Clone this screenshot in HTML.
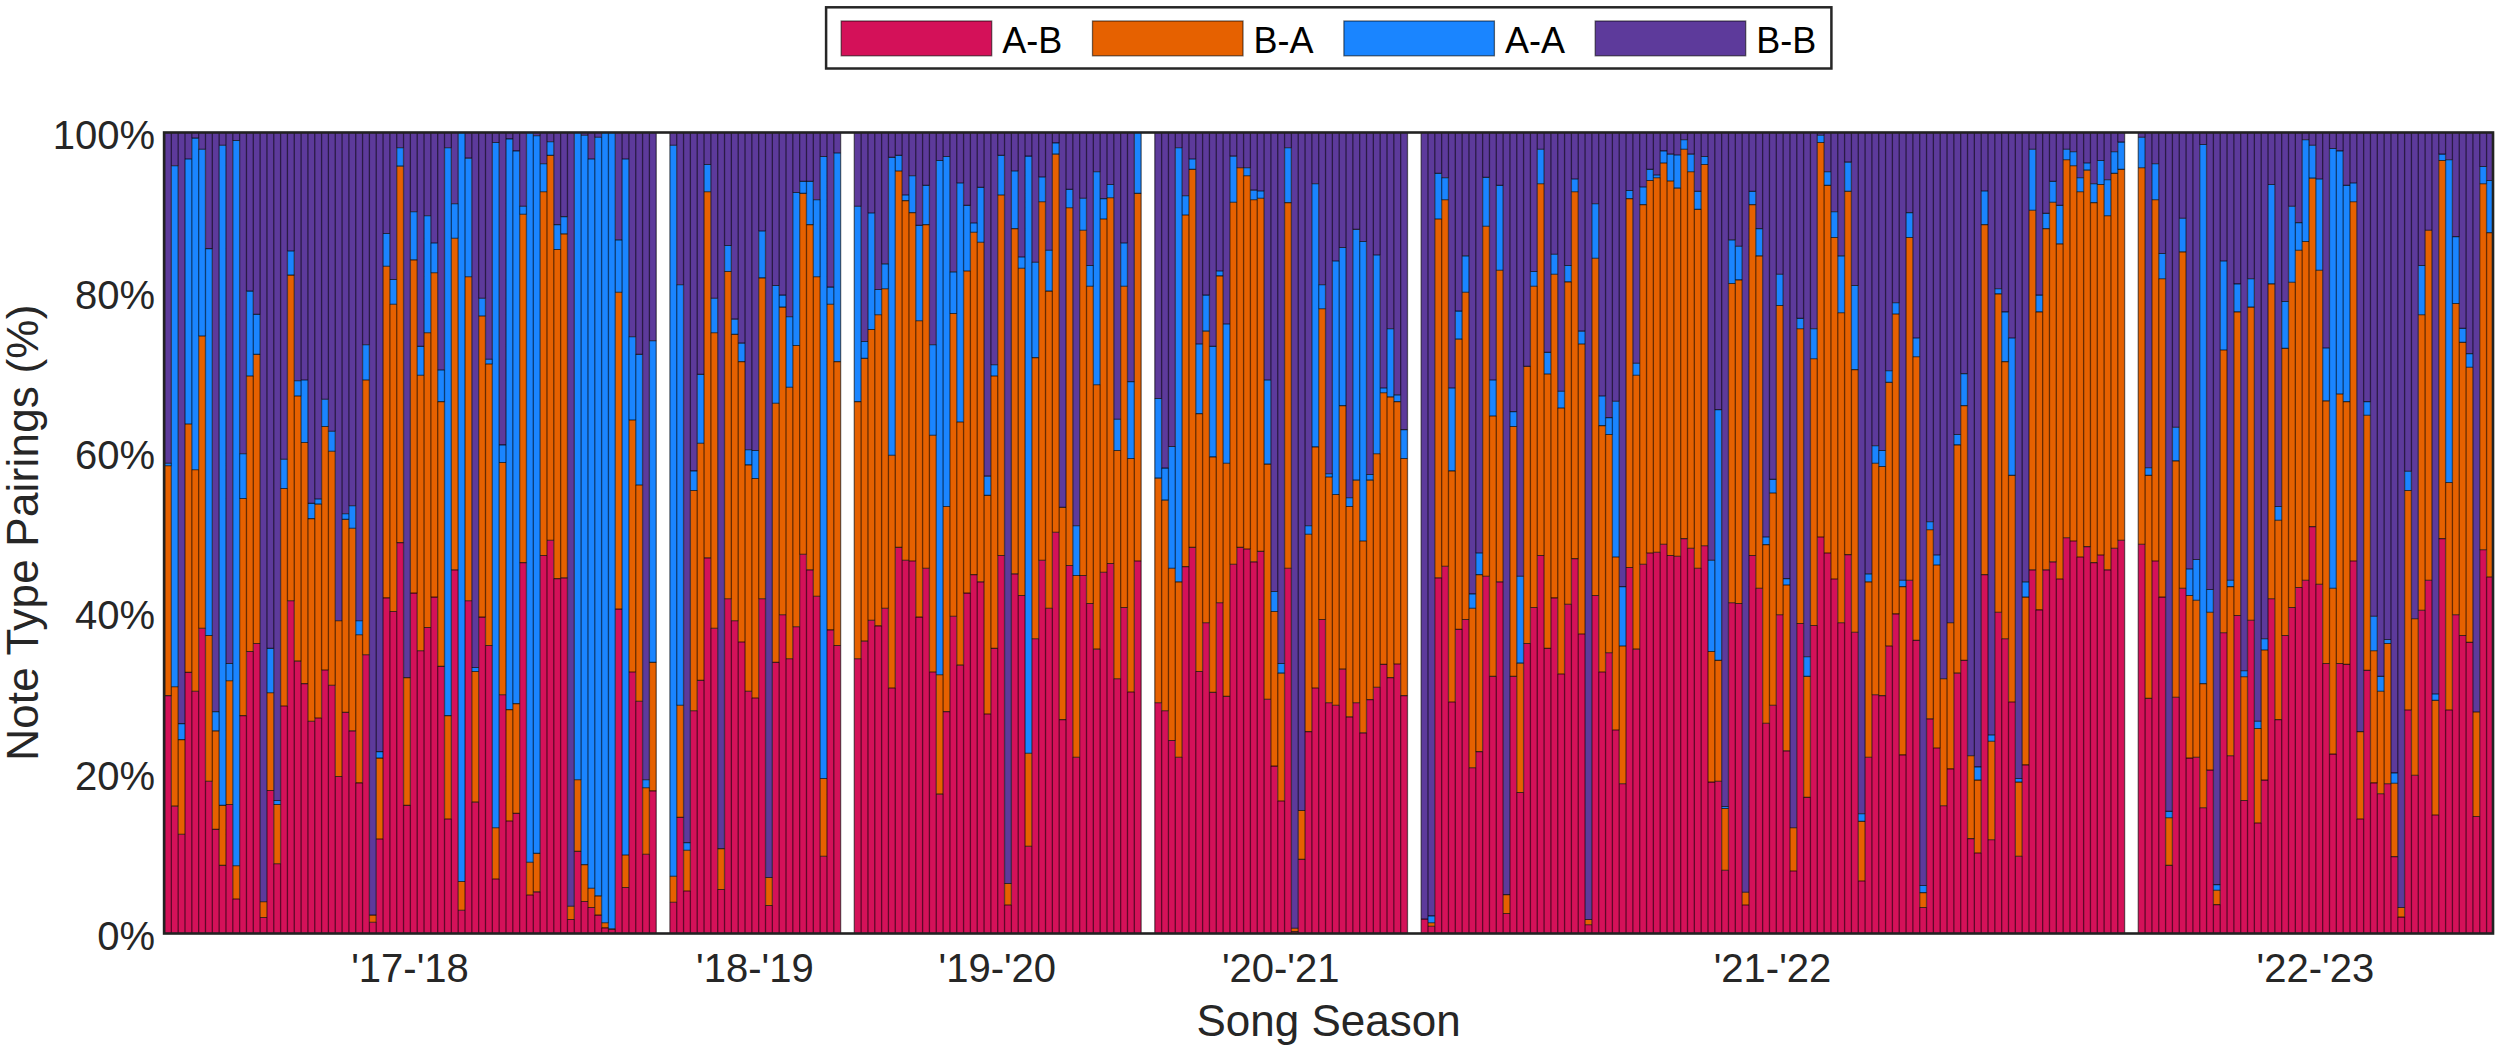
<!DOCTYPE html>
<html lang="en"><head><meta charset="utf-8"><title>Note Type Pairings by Song Season</title>
<style>html,body{margin:0;padding:0;background:#fff}body{width:2500px;height:1048px;overflow:hidden}svg{display:block}</style></head>
<body>
<svg width="2500" height="1048" viewBox="0 0 2500 1048">
<rect width="2500" height="1048" fill="#fff"/>
<path fill="#D41159" d="M164.50 933.50h6.83v-237.90h-6.83zM171.33 933.50h6.83v-127.36h-6.83zM178.16 933.50h6.83v-99.32h-6.83zM184.99 933.50h6.83v-261.13h-6.83zM191.82 933.50h6.83v-242.30h-6.83zM198.65 933.50h6.83v-305.18h-6.83zM205.48 933.50h6.83v-152.19h-6.83zM212.31 933.50h6.83v-104.13h-6.83zM219.14 933.50h6.83v-68.09h-6.83zM225.97 933.50h6.83v-128.96h-6.83zM232.80 933.50h6.83v-34.44h-6.83zM239.63 933.50h6.83v-217.87h-6.83zM246.46 933.50h6.83v-281.95h-6.83zM253.29 933.50h6.83v-289.96h-6.83zM260.11 933.50h6.83v-16.02h-6.83zM266.94 933.50h6.83v-142.98h-6.83zM273.77 933.50h6.83v-69.69h-6.83zM280.60 933.50h6.83v-227.48h-6.83zM287.43 933.50h6.83v-332.82h-6.83zM294.26 933.50h6.83v-272.34h-6.83zM301.09 933.50h6.83v-249.91h-6.83zM307.92 933.50h6.83v-212.26h-6.83zM314.75 933.50h6.83v-215.47h-6.83zM321.58 933.50h6.83v-263.53h-6.83zM328.41 933.50h6.83v-248.31h-6.83zM335.24 933.50h6.83v-157.00h-6.83zM342.07 933.50h6.83v-221.08h-6.83zM348.90 933.50h6.83v-202.65h-6.83zM355.73 933.50h6.83v-150.59h-6.83zM362.56 933.50h6.83v-278.75h-6.83zM369.39 933.50h6.83v-11.21h-6.83zM376.22 933.50h6.83v-94.52h-6.83zM383.05 933.50h6.83v-335.62h-6.83zM389.88 933.50h6.83v-322.00h-6.83zM396.71 933.50h6.83v-390.89h-6.83zM403.54 933.50h6.83v-128.16h-6.83zM410.37 933.50h6.83v-340.42h-6.83zM417.20 933.50h6.83v-282.75h-6.83zM424.03 933.50h6.83v-305.98h-6.83zM430.86 933.50h6.83v-336.42h-6.83zM437.68 933.50h6.83v-267.13h-6.83zM444.51 933.50h6.83v-114.54h-6.83zM451.34 933.50h6.83v-363.65h-6.83zM458.17 933.50h6.83v-23.23h-6.83zM465.00 933.50h6.83v-332.82h-6.83zM471.83 933.50h6.83v-131.36h-6.83zM478.66 933.50h6.83v-316.39h-6.83zM485.49 933.50h6.83v-287.96h-6.83zM492.32 933.50h6.83v-54.47h-6.83zM499.15 933.50h6.83v-238.70h-6.83zM505.98 933.50h6.83v-112.54h-6.83zM512.81 933.50h6.83v-120.15h-6.83zM519.64 933.50h6.83v-370.86h-6.83zM526.47 933.50h6.83v-38.45h-6.83zM533.30 933.50h6.83v-41.65h-6.83zM540.13 933.50h6.83v-378.07h-6.83zM546.96 933.50h6.83v-393.29h-6.83zM553.79 933.50h6.83v-354.84h-6.83zM560.62 933.50h6.83v-355.64h-6.83zM567.45 933.50h6.83v-14.02h-6.83zM574.28 933.50h6.83v-82.10h-6.83zM581.11 933.50h6.83v-32.04h-6.83zM587.94 933.50h6.83v-26.03h-6.83zM594.77 933.50h6.83v-18.42h-6.83zM601.60 933.50h6.83v-5.61h-6.83zM608.43 933.50h6.83v-4.00h-6.83zM615.25 933.50h6.83v-324.40h-6.83zM622.08 933.50h6.83v-46.06h-6.83zM628.91 933.50h6.83v-261.53h-6.83zM635.74 933.50h6.83v-232.29h-6.83zM642.57 933.50h6.83v-79.30h-6.83zM649.40 933.50h6.83v-142.58h-6.83zM669.89 933.50h6.83v-31.24h-6.83zM676.72 933.50h6.83v-116.14h-6.83zM683.55 933.50h6.83v-42.45h-6.83zM690.38 933.50h6.83v-222.68h-6.83zM697.21 933.50h6.83v-253.12h-6.83zM704.04 933.50h6.83v-375.67h-6.83zM710.87 933.50h6.83v-305.18h-6.83zM717.70 933.50h6.83v-44.05h-6.83zM724.53 933.50h6.83v-334.82h-6.83zM731.36 933.50h6.83v-312.79h-6.83zM738.19 933.50h6.83v-291.56h-6.83zM745.02 933.50h6.83v-242.30h-6.83zM751.85 933.50h6.83v-235.49h-6.83zM758.68 933.50h6.83v-334.82h-6.83zM765.51 933.50h6.83v-28.03h-6.83zM772.34 933.50h6.83v-271.14h-6.83zM779.17 933.50h6.83v-318.80h-6.83zM786.00 933.50h6.83v-274.74h-6.83zM792.82 933.50h6.83v-306.78h-6.83zM799.65 933.50h6.83v-379.27h-6.83zM806.48 933.50h6.83v-363.65h-6.83zM813.31 933.50h6.83v-337.22h-6.83zM820.14 933.50h6.83v-77.30h-6.83zM826.97 933.50h6.83v-303.58h-6.83zM833.80 933.50h6.83v-287.96h-6.83zM854.29 933.50h6.83v-274.74h-6.83zM861.12 933.50h6.83v-292.37h-6.83zM867.95 933.50h6.83v-313.19h-6.83zM874.78 933.50h6.83v-307.58h-6.83zM881.61 933.50h6.83v-325.21h-6.83zM888.44 933.50h6.83v-245.51h-6.83zM895.27 933.50h6.83v-386.08h-6.83zM902.10 933.50h6.83v-373.27h-6.83zM908.93 933.50h6.83v-372.47h-6.83zM915.76 933.50h6.83v-316.39h-6.83zM922.59 933.50h6.83v-365.26h-6.83zM929.42 933.50h6.83v-261.53h-6.83zM936.25 933.50h6.83v-139.37h-6.83zM943.08 933.50h6.83v-221.88h-6.83zM949.91 933.50h6.83v-317.20h-6.83zM956.74 933.50h6.83v-268.34h-6.83zM963.57 933.50h6.83v-340.42h-6.83zM970.40 933.50h6.83v-358.85h-6.83zM977.22 933.50h6.83v-351.64h-6.83zM984.05 933.50h6.83v-219.47h-6.83zM990.88 933.50h6.83v-285.16h-6.83zM997.71 933.50h6.83v-378.07h-6.83zM1004.54 933.50h6.83v-28.44h-6.83zM1011.37 933.50h6.83v-359.65h-6.83zM1018.20 933.50h6.83v-338.02h-6.83zM1025.03 933.50h6.83v-87.31h-6.83zM1031.86 933.50h6.83v-294.77h-6.83zM1038.69 933.50h6.83v-373.27h-6.83zM1045.52 933.50h6.83v-325.21h-6.83zM1052.35 933.50h6.83v-401.30h-6.83zM1059.18 933.50h6.83v-213.87h-6.83zM1066.01 933.50h6.83v-368.06h-6.83zM1072.84 933.50h6.83v-176.22h-6.83zM1079.67 933.50h6.83v-358.05h-6.83zM1086.50 933.50h6.83v-330.01h-6.83zM1093.33 933.50h6.83v-284.36h-6.83zM1100.16 933.50h6.83v-361.25h-6.83zM1106.99 933.50h6.83v-370.06h-6.83zM1113.82 933.50h6.83v-254.72h-6.83zM1120.65 933.50h6.83v-326.01h-6.83zM1127.48 933.50h6.83v-241.50h-6.83zM1134.31 933.50h6.83v-372.47h-6.83zM1154.79 933.50h6.83v-230.69h-6.83zM1161.62 933.50h6.83v-222.68h-6.83zM1168.45 933.50h6.83v-193.04h-6.83zM1175.28 933.50h6.83v-176.22h-6.83zM1182.11 933.50h6.83v-366.86h-6.83zM1188.94 933.50h6.83v-386.08h-6.83zM1195.77 933.50h6.83v-261.93h-6.83zM1202.60 933.50h6.83v-310.79h-6.83zM1209.43 933.50h6.83v-241.10h-6.83zM1216.26 933.50h6.83v-330.81h-6.83zM1223.09 933.50h6.83v-237.10h-6.83zM1229.92 933.50h6.83v-369.26h-6.83zM1236.75 933.50h6.83v-386.08h-6.83zM1243.58 933.50h6.83v-384.48h-6.83zM1250.41 933.50h6.83v-371.66h-6.83zM1257.24 933.50h6.83v-382.08h-6.83zM1264.07 933.50h6.83v-234.29h-6.83zM1270.90 933.50h6.83v-167.41h-6.83zM1277.73 933.50h6.83v-132.57h-6.83zM1284.56 933.50h6.83v-365.26h-6.83zM1291.39 933.50h6.83v-2.00h-6.83zM1298.22 933.50h6.83v-74.09h-6.83zM1305.05 933.50h6.83v-201.85h-6.83zM1311.88 933.50h6.83v-245.51h-6.83zM1318.71 933.50h6.83v-313.99h-6.83zM1325.54 933.50h6.83v-230.69h-6.83zM1332.36 933.50h6.83v-228.28h-6.83zM1339.19 933.50h6.83v-264.33h-6.83zM1346.02 933.50h6.83v-216.67h-6.83zM1352.85 933.50h6.83v-230.69h-6.83zM1359.68 933.50h6.83v-200.65h-6.83zM1366.51 933.50h6.83v-233.89h-6.83zM1373.34 933.50h6.83v-246.31h-6.83zM1380.17 933.50h6.83v-269.14h-6.83zM1387.00 933.50h6.83v-255.92h-6.83zM1393.83 933.50h6.83v-269.54h-6.83zM1400.66 933.50h6.83v-237.90h-6.83zM1421.15 933.50h6.83v-14.42h-6.83zM1427.98 933.50h6.83v-7.21h-6.83zM1434.81 933.50h6.83v-355.64h-6.83zM1441.64 933.50h6.83v-367.26h-6.83zM1448.47 933.50h6.83v-231.49h-6.83zM1455.30 933.50h6.83v-304.14h-6.83zM1462.13 933.50h6.83v-313.99h-6.83zM1468.96 933.50h6.83v-165.81h-6.83zM1475.79 933.50h6.83v-181.83h-6.83zM1482.62 933.50h6.83v-357.25h-6.83zM1489.45 933.50h6.83v-257.12h-6.83zM1496.28 933.50h6.83v-351.64h-6.83zM1503.11 933.50h6.83v-20.02h-6.83zM1509.93 933.50h6.83v-257.12h-6.83zM1516.76 933.50h6.83v-140.98h-6.83zM1523.59 933.50h6.83v-289.96h-6.83zM1530.42 933.50h6.83v-326.01h-6.83zM1537.25 933.50h6.83v-378.07h-6.83zM1544.08 933.50h6.83v-285.16h-6.83zM1550.91 933.50h6.83v-335.62h-6.83zM1557.74 933.50h6.83v-259.52h-6.83zM1564.57 933.50h6.83v-329.21h-6.83zM1571.40 933.50h6.83v-374.87h-6.83zM1578.23 933.50h6.83v-299.57h-6.83zM1585.06 933.50h6.83v-8.81h-6.83zM1591.89 933.50h6.83v-338.02h-6.83zM1598.72 933.50h6.83v-261.53h-6.83zM1605.55 933.50h6.83v-280.75h-6.83zM1612.38 933.50h6.83v-203.45h-6.83zM1619.21 933.50h6.83v-149.79h-6.83zM1626.04 933.50h6.83v-366.06h-6.83zM1632.87 933.50h6.83v-284.36h-6.83zM1639.70 933.50h6.83v-369.26h-6.83zM1646.53 933.50h6.83v-380.47h-6.83zM1653.36 933.50h6.83v-381.28h-6.83zM1660.19 933.50h6.83v-389.29h-6.83zM1667.02 933.50h6.83v-378.07h-6.83zM1673.85 933.50h6.83v-377.27h-6.83zM1680.68 933.50h6.83v-394.89h-6.83zM1687.50 933.50h6.83v-385.28h-6.83zM1694.33 933.50h6.83v-365.26h-6.83zM1701.16 933.50h6.83v-387.68h-6.83zM1707.99 933.50h6.83v-151.39h-6.83zM1714.82 933.50h6.83v-152.19h-6.83zM1721.65 933.50h6.83v-63.28h-6.83zM1728.48 933.50h6.83v-330.81h-6.83zM1735.31 933.50h6.83v-330.01h-6.83zM1742.14 933.50h6.83v-28.44h-6.83zM1748.97 933.50h6.83v-378.07h-6.83zM1755.80 933.50h6.83v-345.23h-6.83zM1762.63 933.50h6.83v-210.26h-6.83zM1769.46 933.50h6.83v-228.28h-6.83zM1776.29 933.50h6.83v-318.80h-6.83zM1783.12 933.50h6.83v-182.63h-6.83zM1789.95 933.50h6.83v-62.48h-6.83zM1796.78 933.50h6.83v-309.99h-6.83zM1803.61 933.50h6.83v-136.17h-6.83zM1810.44 933.50h6.83v-307.98h-6.83zM1817.27 933.50h6.83v-396.50h-6.83zM1824.10 933.50h6.83v-380.47h-6.83zM1830.93 933.50h6.83v-354.44h-6.83zM1837.76 933.50h6.83v-310.79h-6.83zM1844.59 933.50h6.83v-378.87h-6.83zM1851.42 933.50h6.83v-301.18h-6.83zM1858.25 933.50h6.83v-52.47h-6.83zM1865.08 933.50h6.83v-176.22h-6.83zM1871.90 933.50h6.83v-238.70h-6.83zM1878.73 933.50h6.83v-237.90h-6.83zM1885.56 933.50h6.83v-287.56h-6.83zM1892.39 933.50h6.83v-319.60h-6.83zM1899.22 933.50h6.83v-178.62h-6.83zM1906.05 933.50h6.83v-353.24h-6.83zM1912.88 933.50h6.83v-293.17h-6.83zM1919.71 933.50h6.83v-26.03h-6.83zM1926.54 933.50h6.83v-214.67h-6.83zM1933.37 933.50h6.83v-185.43h-6.83zM1940.20 933.50h6.83v-127.76h-6.83zM1947.03 933.50h6.83v-164.61h-6.83zM1953.86 933.50h6.83v-260.33h-6.83zM1960.69 933.50h6.83v-273.14h-6.83zM1967.52 933.50h6.83v-94.92h-6.83zM1974.35 933.50h6.83v-80.50h-6.83zM1981.18 933.50h6.83v-358.85h-6.83zM1988.01 933.50h6.83v-93.72h-6.83zM1994.84 933.50h6.83v-321.20h-6.83zM2001.67 933.50h6.83v-294.77h-6.83zM2008.50 933.50h6.83v-231.49h-6.83zM2015.33 933.50h6.83v-77.30h-6.83zM2022.16 933.50h6.83v-168.61h-6.83zM2028.99 933.50h6.83v-363.65h-6.83zM2035.82 933.50h6.83v-323.60h-6.83zM2042.65 933.50h6.83v-363.65h-6.83zM2049.47 933.50h6.83v-371.66h-6.83zM2056.30 933.50h6.83v-354.44h-6.83zM2063.13 933.50h6.83v-395.69h-6.83zM2069.96 933.50h6.83v-392.49h-6.83zM2076.79 933.50h6.83v-376.47h-6.83zM2083.62 933.50h6.83v-386.88h-6.83zM2090.45 933.50h6.83v-370.86h-6.83zM2097.28 933.50h6.83v-378.47h-6.83zM2104.11 933.50h6.83v-363.65h-6.83zM2110.94 933.50h6.83v-385.28h-6.83zM2117.77 933.50h6.83v-393.29h-6.83zM2138.26 933.50h6.83v-389.29h-6.83zM2145.09 933.50h6.83v-235.09h-6.83zM2151.92 933.50h6.83v-372.47h-6.83zM2158.75 933.50h6.83v-336.42h-6.83zM2165.58 933.50h6.83v-68.09h-6.83zM2172.41 933.50h6.83v-236.29h-6.83zM2179.24 933.50h6.83v-345.23h-6.83zM2186.07 933.50h6.83v-175.42h-6.83zM2192.90 933.50h6.83v-176.22h-6.83zM2199.73 933.50h6.83v-125.76h-6.83zM2206.56 933.50h6.83v-163.40h-6.83zM2213.39 933.50h6.83v-28.84h-6.83zM2220.22 933.50h6.83v-300.78h-6.83zM2227.04 933.50h6.83v-177.82h-6.83zM2233.87 933.50h6.83v-318.00h-6.83zM2240.70 933.50h6.83v-132.97h-6.83zM2247.53 933.50h6.83v-313.19h-6.83zM2254.36 933.50h6.83v-110.54h-6.83zM2261.19 933.50h6.83v-153.39h-6.83zM2268.02 933.50h6.83v-334.82h-6.83zM2274.85 933.50h6.83v-213.87h-6.83zM2281.68 933.50h6.83v-297.97h-6.83zM2288.51 933.50h6.83v-326.01h-6.83zM2295.34 933.50h6.83v-346.03h-6.83zM2302.17 933.50h6.83v-353.24h-6.83zM2309.00 933.50h6.83v-406.91h-6.83zM2315.83 933.50h6.83v-349.24h-6.83zM2322.66 933.50h6.83v-269.94h-6.83zM2329.49 933.50h6.83v-179.42h-6.83zM2336.32 933.50h6.83v-269.94h-6.83zM2343.15 933.50h6.83v-269.14h-6.83zM2349.98 933.50h6.83v-372.47h-6.83zM2356.81 933.50h6.83v-114.54h-6.83zM2363.64 933.50h6.83v-263.13h-6.83zM2370.47 933.50h6.83v-150.59h-6.83zM2377.30 933.50h6.83v-139.77h-6.83zM2384.13 933.50h6.83v-149.79h-6.83zM2390.96 933.50h6.83v-76.90h-6.83zM2397.79 933.50h6.83v-16.42h-6.83zM2404.61 933.50h6.83v-223.48h-6.83zM2411.44 933.50h6.83v-158.20h-6.83zM2418.27 933.50h6.83v-323.20h-6.83zM2425.10 933.50h6.83v-353.24h-6.83zM2431.93 933.50h6.83v-118.55h-6.83zM2438.76 933.50h6.83v-394.89h-6.83zM2445.59 933.50h6.83v-223.48h-6.83zM2452.42 933.50h6.83v-318.80h-6.83zM2459.25 933.50h6.83v-297.97h-6.83zM2466.08 933.50h6.83v-291.16h-6.83zM2472.91 933.50h6.83v-116.95h-6.83zM2479.74 933.50h6.83v-383.68h-6.83zM2486.57 933.50h6.83v-356.44h-6.83z"/>
<path fill="#E66100" d="M164.50 695.60h6.83v-229.89h-6.83zM171.33 806.14h6.83v-119.35h-6.83zM178.16 834.18h6.83v-94.52h-6.83zM184.99 672.37h6.83v-248.31h-6.83zM191.82 691.20h6.83v-221.48h-6.83zM198.65 628.32h6.83v-292.37h-6.83zM205.48 781.31h6.83v-145.78h-6.83zM212.31 829.37h6.83v-98.52h-6.83zM219.14 865.41h6.83v-60.07h-6.83zM225.97 804.54h6.83v-123.75h-6.83zM232.80 899.06h6.83v-33.24h-6.83zM239.63 715.63h6.83v-217.07h-6.83zM246.46 651.55h6.83v-275.54h-6.83zM253.29 643.54h6.83v-289.16h-6.83zM260.11 917.48h6.83v-15.70h-6.83zM266.94 790.52h6.83v-97.72h-6.83zM273.77 863.81h6.83v-59.27h-6.83zM280.60 706.02h6.83v-217.47h-6.83zM287.43 600.68h6.83v-325.61h-6.83zM294.26 661.16h6.83v-265.13h-6.83zM301.09 683.59h6.83v-241.10h-6.83zM307.92 721.24h6.83v-202.65h-6.83zM314.75 718.03h6.83v-213.87h-6.83zM321.58 669.97h6.83v-243.50h-6.83zM328.41 685.19h6.83v-233.89h-6.83zM335.24 776.50h6.83v-155.79h-6.83zM342.07 712.42h6.83v-193.04h-6.83zM348.90 730.85h6.83v-202.65h-6.83zM355.73 782.91h6.83v-148.19h-6.83zM362.56 654.75h6.83v-274.74h-6.83zM369.39 922.29h6.83v-7.21h-6.83zM376.22 838.98h6.83v-80.90h-6.83zM383.05 597.88h6.83v-331.61h-6.83zM389.88 611.50h6.83v-307.18h-6.83zM396.71 542.61h6.83v-376.47h-6.83zM403.54 805.34h6.83v-127.76h-6.83zM410.37 593.08h6.83v-333.22h-6.83zM417.20 650.75h6.83v-275.54h-6.83zM424.03 627.52h6.83v-294.77h-6.83zM430.86 597.08h6.83v-324.40h-6.83zM437.68 666.37h6.83v-264.73h-6.83zM444.51 818.96h6.83v-103.33h-6.83zM451.34 569.85h6.83v-331.61h-6.83zM458.17 910.27h6.83v-28.84h-6.83zM465.00 600.68h6.83v-324.00h-6.83zM471.83 802.14h6.83v-130.56h-6.83zM478.66 617.11h6.83v-301.18h-6.83zM485.49 645.54h6.83v-281.55h-6.83zM492.32 879.03h6.83v-51.26h-6.83zM499.15 694.80h6.83v-232.29h-6.83zM505.98 820.96h6.83v-111.34h-6.83zM512.81 813.35h6.83v-109.74h-6.83zM519.64 562.64h6.83v-348.43h-6.83zM526.47 895.05h6.83v-32.84h-6.83zM533.30 891.85h6.83v-38.45h-6.83zM540.13 555.43h6.83v-363.65h-6.83zM546.96 540.21h6.83v-384.88h-6.83zM553.79 578.66h6.83v-329.21h-6.83zM560.62 577.86h6.83v-344.03h-6.83zM567.45 919.48h6.83v-13.22h-6.83zM574.28 851.40h6.83v-71.69h-6.83zM581.11 901.46h6.83v-36.85h-6.83zM587.94 907.47h6.83v-19.22h-6.83zM594.77 915.08h6.83v-19.22h-6.83zM601.60 927.89h6.83v-5.21h-6.83zM608.43 929.50h6.83v-0.80h-6.83zM615.25 609.10h6.83v-316.80h-6.83zM622.08 887.44h6.83v-32.44h-6.83zM628.91 671.97h6.83v-251.91h-6.83zM635.74 701.21h6.83v-216.27h-6.83zM642.57 854.20h6.83v-66.48h-6.83zM649.40 790.92h6.83v-128.56h-6.83zM669.89 902.26h6.83v-26.03h-6.83zM676.72 817.36h6.83v-112.14h-6.83zM683.55 891.05h6.83v-40.85h-6.83zM690.38 710.82h6.83v-220.27h-6.83zM697.21 680.38h6.83v-237.10h-6.83zM704.04 557.83h6.83v-366.06h-6.83zM710.87 628.32h6.83v-295.57h-6.83zM717.70 889.45h6.83v-40.85h-6.83zM724.53 598.68h6.83v-327.21h-6.83zM731.36 620.71h6.83v-286.36h-6.83zM738.19 641.94h6.83v-280.35h-6.83zM745.02 691.20h6.83v-226.28h-6.83zM751.85 698.01h6.83v-219.47h-6.83zM758.68 598.68h6.83v-320.80h-6.83zM765.51 905.47h6.83v-28.04h-6.83zM772.34 662.36h6.83v-259.12h-6.83zM779.17 614.70h6.83v-307.58h-6.83zM786.00 658.76h6.83v-271.54h-6.83zM792.82 626.72h6.83v-281.15h-6.83zM799.65 554.23h6.83v-360.85h-6.83zM806.48 569.85h6.83v-345.23h-6.83zM813.31 596.28h6.83v-319.60h-6.83zM820.14 856.20h6.83v-77.70h-6.83zM826.97 629.92h6.83v-325.61h-6.83zM833.80 645.54h6.83v-283.95h-6.83zM854.29 658.76h6.83v-257.12h-6.83zM861.12 641.13h6.83v-282.75h-6.83zM867.95 620.31h6.83v-290.76h-6.83zM874.78 625.92h6.83v-311.19h-6.83zM881.61 608.29h6.83v-319.60h-6.83zM888.44 687.99h6.83v-232.69h-6.83zM895.27 547.42h6.83v-376.47h-6.83zM902.10 560.23h6.83v-359.65h-6.83zM908.93 561.03h6.83v-348.43h-6.83zM915.76 617.11h6.83v-296.37h-6.83zM922.59 568.24h6.83v-343.63h-6.83zM929.42 671.97h6.83v-236.70h-6.83zM936.25 794.13h6.83v-119.35h-6.83zM943.08 711.62h6.83v-205.06h-6.83zM949.91 616.30h6.83v-302.78h-6.83zM956.74 665.16h6.83v-243.10h-6.83zM963.57 593.08h6.83v-322.00h-6.83zM970.40 574.65h6.83v-342.43h-6.83zM977.22 581.86h6.83v-339.62h-6.83zM984.05 714.03h6.83v-218.67h-6.83zM990.88 648.34h6.83v-272.34h-6.83zM997.71 555.43h6.83v-360.45h-6.83zM1004.54 905.06h6.83v-21.63h-6.83zM1011.37 573.85h6.83v-345.23h-6.83zM1018.20 595.48h6.83v-327.21h-6.83zM1025.03 846.19h6.83v-92.92h-6.83zM1031.86 638.73h6.83v-281.15h-6.83zM1038.69 560.23h6.83v-358.45h-6.83zM1045.52 608.29h6.83v-317.20h-6.83zM1052.35 532.20h6.83v-378.07h-6.83zM1059.18 719.63h6.83v-212.27h-6.83zM1066.01 565.44h6.83v-357.65h-6.83zM1072.84 757.28h6.83v-181.83h-6.83zM1079.67 575.45h6.83v-345.23h-6.83zM1086.50 603.49h6.83v-317.20h-6.83zM1093.33 649.14h6.83v-264.33h-6.83zM1100.16 572.25h6.83v-353.24h-6.83zM1106.99 563.44h6.83v-365.66h-6.83zM1113.82 678.78h6.83v-228.28h-6.83zM1120.65 607.49h6.83v-321.20h-6.83zM1127.48 692.00h6.83v-233.49h-6.83zM1134.31 561.03h6.83v-367.66h-6.83zM1154.79 702.81h6.83v-224.68h-6.83zM1161.62 710.82h6.83v-210.66h-6.83zM1168.45 740.46h6.83v-172.22h-6.83zM1175.28 757.28h6.83v-175.42h-6.83zM1182.11 566.64h6.83v-351.64h-6.83zM1188.94 547.42h6.83v-378.07h-6.83zM1195.77 671.57h6.83v-257.92h-6.83zM1202.60 622.71h6.83v-291.56h-6.83zM1209.43 692.40h6.83v-235.49h-6.83zM1216.26 602.69h6.83v-326.81h-6.83zM1223.09 696.40h6.83v-233.09h-6.83zM1229.92 564.24h6.83v-362.05h-6.83zM1236.75 547.42h6.83v-379.67h-6.83zM1243.58 549.02h6.83v-373.27h-6.83zM1250.41 561.84h6.83v-362.05h-6.83zM1257.24 551.42h6.83v-353.24h-6.83zM1264.07 699.21h6.83v-235.09h-6.83zM1270.90 766.09h6.83v-154.59h-6.83zM1277.73 800.93h6.83v-127.76h-6.83zM1284.56 568.24h6.83v-365.66h-6.83zM1291.39 931.50h6.83v-3.20h-6.83zM1298.22 859.41h6.83v-48.86h-6.83zM1305.05 731.65h6.83v-197.45h-6.83zM1311.88 687.99h6.83v-241.10h-6.83zM1318.71 619.51h6.83v-310.79h-6.83zM1325.54 702.81h6.83v-225.88h-6.83zM1332.36 705.22h6.83v-210.66h-6.83zM1339.19 669.17h6.83v-263.53h-6.83zM1346.02 716.83h6.83v-210.26h-6.83zM1352.85 702.81h6.83v-222.68h-6.83zM1359.68 732.85h6.83v-191.84h-6.83zM1366.51 699.61h6.83v-219.47h-6.83zM1373.34 687.19h6.83v-233.49h-6.83zM1380.17 664.36h6.83v-271.54h-6.83zM1387.00 677.58h6.83v-280.75h-6.83zM1393.83 663.96h6.83v-262.33h-6.83zM1400.66 695.60h6.83v-237.10h-6.83zM1427.98 926.29h6.83v-3.60h-6.83zM1434.81 577.86h6.83v-358.85h-6.83zM1441.64 566.24h6.83v-366.46h-6.83zM1448.47 702.01h6.83v-231.09h-6.83zM1455.30 629.36h6.83v-290.20h-6.83zM1462.13 619.51h6.83v-327.21h-6.83zM1468.96 767.69h6.83v-159.40h-6.83zM1475.79 751.67h6.83v-177.02h-6.83zM1482.62 576.25h6.83v-350.04h-6.83zM1489.45 676.38h6.83v-260.32h-6.83zM1496.28 581.86h6.83v-311.59h-6.83zM1503.11 913.48h6.83v-18.82h-6.83zM1509.93 676.38h6.83v-249.91h-6.83zM1516.76 792.52h6.83v-129.36h-6.83zM1523.59 643.54h6.83v-277.15h-6.83zM1530.42 607.49h6.83v-321.20h-6.83zM1537.25 555.43h6.83v-371.66h-6.83zM1544.08 648.34h6.83v-274.34h-6.83zM1550.91 597.88h6.83v-323.60h-6.83zM1557.74 673.98h6.83v-265.93h-6.83zM1564.57 604.29h6.83v-322.40h-6.83zM1571.40 558.63h6.83v-366.86h-6.83zM1578.23 633.93h6.83v-289.96h-6.83zM1585.06 924.69h6.83v-5.21h-6.83zM1591.89 595.48h6.83v-337.22h-6.83zM1598.72 671.97h6.83v-246.31h-6.83zM1605.55 652.75h6.83v-218.27h-6.83zM1612.38 730.05h6.83v-173.02h-6.83zM1619.21 783.71h6.83v-137.77h-6.83zM1626.04 567.44h6.83v-368.86h-6.83zM1632.87 649.14h6.83v-273.94h-6.83zM1639.70 564.24h6.83v-359.65h-6.83zM1646.53 553.03h6.83v-372.47h-6.83zM1653.36 552.22h6.83v-374.47h-6.83zM1660.19 544.21h6.83v-381.28h-6.83zM1667.02 555.43h6.83v-374.47h-6.83zM1673.85 556.23h6.83v-368.06h-6.83zM1680.68 538.61h6.83v-389.29h-6.83zM1687.50 548.22h6.83v-376.47h-6.83zM1694.33 568.24h6.83v-358.85h-6.83zM1701.16 545.82h6.83v-381.28h-6.83zM1707.99 782.11h6.83v-130.56h-6.83zM1714.82 781.31h6.83v-120.95h-6.83zM1721.65 870.22h6.83v-61.68h-6.83zM1728.48 602.69h6.83v-319.20h-6.83zM1735.31 603.49h6.83v-323.60h-6.83zM1742.14 905.06h6.83v-12.82h-6.83zM1748.97 555.43h6.83v-350.84h-6.83zM1755.80 588.27h6.83v-332.41h-6.83zM1762.63 723.24h6.83v-178.62h-6.83zM1769.46 705.22h6.83v-212.27h-6.83zM1776.29 614.70h6.83v-309.19h-6.83zM1783.12 750.87h6.83v-165.81h-6.83zM1789.95 871.02h6.83v-43.25h-6.83zM1796.78 623.51h6.83v-294.77h-6.83zM1803.61 797.33h6.83v-120.95h-6.83zM1810.44 625.52h6.83v-266.73h-6.83zM1817.27 537.00h6.83v-394.49h-6.83zM1824.10 553.03h6.83v-367.66h-6.83zM1830.93 579.06h6.83v-341.63h-6.83zM1837.76 622.71h6.83v-309.99h-6.83zM1844.59 554.63h6.83v-363.25h-6.83zM1851.42 632.32h6.83v-262.73h-6.83zM1858.25 881.03h6.83v-59.67h-6.83zM1865.08 757.28h6.83v-175.42h-6.83zM1871.90 694.80h6.83v-231.49h-6.83zM1878.73 695.60h6.83v-229.09h-6.83zM1885.56 645.94h6.83v-263.53h-6.83zM1892.39 613.90h6.83v-299.97h-6.83zM1899.22 754.88h6.83v-168.21h-6.83zM1906.05 580.26h6.83v-342.83h-6.83zM1912.88 640.33h6.83v-283.55h-6.83zM1919.71 907.47h6.83v-14.82h-6.83zM1926.54 718.83h6.83v-189.04h-6.83zM1933.37 748.07h6.83v-183.03h-6.83zM1940.20 805.74h6.83v-126.96h-6.83zM1947.03 768.89h6.83v-146.18h-6.83zM1953.86 673.17h6.83v-228.28h-6.83zM1960.69 660.36h6.83v-254.72h-6.83zM1967.52 838.58h6.83v-82.90h-6.83zM1974.35 853.00h6.83v-72.89h-6.83zM1981.18 574.65h6.83v-350.04h-6.83zM1988.01 839.78h6.83v-98.52h-6.83zM1994.84 612.30h6.83v-318.40h-6.83zM2001.67 638.73h6.83v-277.15h-6.83zM2008.50 702.01h6.83v-226.68h-6.83zM2015.33 856.20h6.83v-74.09h-6.83zM2022.16 764.89h6.83v-167.81h-6.83zM2028.99 569.85h6.83v-359.65h-6.83zM2035.82 609.90h6.83v-297.97h-6.83zM2042.65 569.85h6.83v-341.23h-6.83zM2049.47 561.84h6.83v-359.65h-6.83zM2056.30 579.06h6.83v-335.22h-6.83zM2063.13 537.81h6.83v-378.07h-6.83zM2069.96 541.01h6.83v-375.27h-6.83zM2076.79 557.03h6.83v-365.26h-6.83zM2083.62 546.62h6.83v-376.47h-6.83zM2090.45 562.64h6.83v-360.05h-6.83zM2097.28 555.03h6.83v-370.46h-6.83zM2104.11 569.85h6.83v-354.04h-6.83zM2110.94 548.22h6.83v-374.87h-6.83zM2117.77 540.21h6.83v-370.86h-6.83zM2138.26 544.21h6.83v-376.47h-6.83zM2145.09 698.41h6.83v-223.08h-6.83zM2151.92 561.03h6.83v-361.25h-6.83zM2158.75 597.08h6.83v-318.40h-6.83zM2165.58 865.41h6.83v-47.66h-6.83zM2172.41 697.21h6.83v-236.30h-6.83zM2179.24 588.27h6.83v-336.42h-6.83zM2186.07 758.08h6.83v-162.60h-6.83zM2192.90 757.28h6.83v-157.00h-6.83zM2199.73 807.74h6.83v-124.15h-6.83zM2206.56 770.10h6.83v-157.80h-6.83zM2213.39 904.66h6.83v-14.42h-6.83zM2220.22 632.72h6.83v-282.75h-6.83zM2227.04 755.68h6.83v-169.01h-6.83zM2233.87 615.50h6.83v-303.58h-6.83zM2240.70 800.53h6.83v-123.75h-6.83zM2247.53 620.31h6.83v-313.19h-6.83zM2254.36 822.96h6.83v-94.52h-6.83zM2261.19 780.11h6.83v-130.16h-6.83zM2268.02 598.68h6.83v-314.79h-6.83zM2274.85 719.63h6.83v-199.45h-6.83zM2281.68 635.53h6.83v-287.16h-6.83zM2288.51 607.49h6.83v-325.21h-6.83zM2295.34 587.47h6.83v-337.22h-6.83zM2302.17 580.26h6.83v-338.82h-6.83zM2309.00 526.59h6.83v-348.43h-6.83zM2315.83 584.26h6.83v-313.99h-6.83zM2322.66 663.56h6.83v-262.73h-6.83zM2329.49 754.08h6.83v-165.81h-6.83zM2336.32 663.56h6.83v-269.54h-6.83zM2343.15 664.36h6.83v-262.73h-6.83zM2349.98 561.03h6.83v-359.25h-6.83zM2356.81 818.96h6.83v-87.31h-6.83zM2363.64 670.37h6.83v-255.12h-6.83zM2370.47 782.91h6.83v-132.16h-6.83zM2377.30 793.73h6.83v-102.53h-6.83zM2384.13 783.71h6.83v-140.17h-6.83zM2390.96 856.60h6.83v-73.29h-6.83zM2397.79 917.08h6.83v-9.61h-6.83zM2404.61 710.02h6.83v-219.47h-6.83zM2411.44 775.30h6.83v-156.60h-6.83zM2418.27 610.30h6.83v-295.57h-6.83zM2425.10 580.26h6.83v-350.04h-6.83zM2431.93 814.95h6.83v-114.54h-6.83zM2438.76 538.61h6.83v-378.07h-6.83zM2445.59 710.02h6.83v-227.48h-6.83zM2452.42 614.70h6.83v-311.19h-6.83zM2459.25 635.53h6.83v-293.17h-6.83zM2466.08 642.34h6.83v-275.14h-6.83zM2472.91 816.55h6.83v-104.53h-6.83zM2479.74 549.82h6.83v-366.06h-6.83zM2486.57 577.06h6.83v-344.43h-6.83z"/>
<path fill="#1A85FF" d="M164.50 465.72h6.83v-2.40h-6.83zM171.33 686.79h6.83v-521.05h-6.83zM178.16 739.66h6.83v-16.02h-6.83zM184.99 424.06h6.83v-265.13h-6.83zM191.82 469.72h6.83v-331.61h-6.83zM198.65 335.95h6.83v-186.63h-6.83zM205.48 635.53h6.83v-386.88h-6.83zM212.31 730.85h6.83v-19.22h-6.83zM219.14 805.34h6.83v-660.02h-6.83zM225.97 680.78h6.83v-17.22h-6.83zM232.80 865.82h6.83v-725.31h-6.83zM239.63 498.56h6.83v-44.86h-6.83zM246.46 376.00h6.83v-84.91h-6.83zM253.29 354.38h6.83v-40.05h-6.83zM266.94 692.80h6.83v-44.46h-6.83zM273.77 804.54h6.83v-4.00h-6.83zM280.60 488.54h6.83v-29.24h-6.83zM287.43 275.08h6.83v-24.03h-6.83zM294.26 396.03h6.83v-15.22h-6.83zM301.09 442.49h6.83v-62.48h-6.83zM307.92 518.58h6.83v-15.22h-6.83zM314.75 504.16h6.83v-5.21h-6.83zM321.58 426.47h6.83v-27.23h-6.83zM328.41 451.30h6.83v-20.02h-6.83zM342.07 519.38h6.83v-5.61h-6.83zM348.90 528.19h6.83v-22.43h-6.83zM355.73 634.73h6.83v-14.02h-6.83zM362.56 380.01h6.83v-35.24h-6.83zM376.22 758.08h6.83v-6.41h-6.83zM383.05 266.27h6.83v-32.84h-6.83zM389.88 304.31h6.83v-24.83h-6.83zM396.71 166.14h6.83v-18.42h-6.83zM410.37 259.86h6.83v-48.06h-6.83zM417.20 375.20h6.83v-28.84h-6.83zM424.03 332.75h6.83v-116.95h-6.83zM430.86 272.68h6.83v-29.64h-6.83zM437.68 401.64h6.83v-31.64h-6.83zM444.51 715.63h6.83v-567.91h-6.83zM451.34 238.23h6.83v-34.44h-6.83zM458.17 881.43h6.83v-748.93h-6.83zM465.00 276.68h6.83v-118.55h-6.83zM471.83 671.57h6.83v-4.00h-6.83zM478.66 315.93h6.83v-17.62h-6.83zM485.49 363.99h6.83v-4.81h-6.83zM492.32 827.77h6.83v-685.26h-6.83zM499.15 462.51h6.83v-17.62h-6.83zM505.98 709.62h6.83v-570.71h-6.83zM512.81 703.61h6.83v-552.69h-6.83zM519.64 214.20h6.83v-8.01h-6.83zM526.47 862.21h6.83v-729.71h-6.83zM533.30 853.40h6.83v-717.70h-6.83zM540.13 191.77h6.83v-28.03h-6.83zM546.96 155.33h6.83v-13.62h-6.83zM553.79 249.45h6.83v-24.83h-6.83zM560.62 233.83h6.83v-17.22h-6.83zM574.28 779.71h6.83v-647.21h-6.83zM581.11 864.61h6.83v-729.31h-6.83zM587.94 888.24h6.83v-729.31h-6.83zM594.77 895.85h6.83v-758.55h-6.83zM601.60 922.69h6.83v-790.19h-6.83zM608.43 928.69h6.83v-796.19h-6.83zM615.25 292.30h6.83v-52.47h-6.83zM622.08 855.00h6.83v-696.07h-6.83zM628.91 420.06h6.83v-83.30h-6.83zM635.74 484.94h6.83v-130.56h-6.83zM642.57 787.72h6.83v-8.01h-6.83zM649.40 662.36h6.83v-321.60h-6.83zM669.89 876.23h6.83v-730.91h-6.83zM676.72 705.22h6.83v-420.53h-6.83zM683.55 850.20h6.83v-7.61h-6.83zM690.38 490.55h6.83v-19.62h-6.83zM697.21 443.29h6.83v-68.89h-6.83zM704.04 191.77h6.83v-27.23h-6.83zM710.87 332.75h6.83v-34.44h-6.83zM724.53 271.47h6.83v-26.03h-6.83zM731.36 334.35h6.83v-15.22h-6.83zM738.19 361.59h6.83v-18.42h-6.83zM745.02 464.92h6.83v-15.22h-6.83zM751.85 478.53h6.83v-28.04h-6.83zM758.68 277.88h6.83v-46.86h-6.83zM772.34 403.24h6.83v-117.75h-6.83zM779.17 307.12h6.83v-12.01h-6.83zM786.00 387.22h6.83v-70.49h-6.83zM792.82 345.57h6.83v-152.99h-6.83zM799.65 193.38h6.83v-12.01h-6.83zM806.48 224.62h6.83v-43.25h-6.83zM813.31 276.68h6.83v-76.90h-6.83zM820.14 778.51h6.83v-621.98h-6.83zM826.97 304.31h6.83v-17.22h-6.83zM833.80 361.59h6.83v-208.66h-6.83zM854.29 401.64h6.83v-195.44h-6.83zM861.12 358.38h6.83v-16.82h-6.83zM867.95 329.55h6.83v-116.55h-6.83zM874.78 314.73h6.83v-25.23h-6.83zM881.61 288.69h6.83v-24.83h-6.83zM888.44 455.30h6.83v-297.97h-6.83zM895.27 170.95h6.83v-15.62h-6.83zM902.10 200.58h6.83v-5.61h-6.83zM908.93 212.60h6.83v-36.85h-6.83zM915.76 320.74h6.83v-95.32h-6.83zM922.59 224.62h6.83v-39.25h-6.83zM929.42 435.28h6.83v-90.51h-6.83zM936.25 674.78h6.83v-514.24h-6.83zM943.08 506.57h6.83v-350.04h-6.83zM949.91 313.53h6.83v-41.65h-6.83zM956.74 422.06h6.83v-239.10h-6.83zM963.57 271.07h6.83v-65.68h-6.83zM970.40 232.22h6.83v-9.21h-6.83zM977.22 242.24h6.83v-54.87h-6.83zM984.05 495.35h6.83v-19.22h-6.83zM990.88 376.00h6.83v-11.21h-6.83zM997.71 194.98h6.83v-39.65h-6.83zM1011.37 228.62h6.83v-57.67h-6.83zM1018.20 268.27h6.83v-11.21h-6.83zM1025.03 753.27h6.83v-597.15h-6.83zM1031.86 357.58h6.83v-95.32h-6.83zM1038.69 201.79h6.83v-24.83h-6.83zM1045.52 291.10h6.83v-40.85h-6.83zM1052.35 154.13h6.83v-11.21h-6.83zM1066.01 207.79h6.83v-18.42h-6.83zM1072.84 575.45h6.83v-49.66h-6.83zM1079.67 230.22h6.83v-32.04h-6.83zM1086.50 286.29h6.83v-20.83h-6.83zM1093.33 384.81h6.83v-213.07h-6.83zM1100.16 219.01h6.83v-20.43h-6.83zM1106.99 197.78h6.83v-13.22h-6.83zM1113.82 450.50h6.83v-31.24h-6.83zM1120.65 286.29h6.83v-43.25h-6.83zM1127.48 458.51h6.83v-76.90h-6.83zM1134.31 193.38h6.83v-60.88h-6.83zM1154.79 478.13h6.83v-79.70h-6.83zM1161.62 500.16h6.83v-32.04h-6.83zM1168.45 568.24h6.83v-121.75h-6.83zM1175.28 581.86h6.83v-434.14h-6.83zM1182.11 215.00h6.83v-19.22h-6.83zM1188.94 169.35h6.83v-10.41h-6.83zM1195.77 413.65h6.83v-69.69h-6.83zM1202.60 331.15h6.83v-36.05h-6.83zM1209.43 456.91h6.83v-110.54h-6.83zM1216.26 275.88h6.83v-4.81h-6.83zM1223.09 463.31h6.83v-139.37h-6.83zM1229.92 202.19h6.83v-46.06h-6.83zM1243.58 175.75h6.83v-8.01h-6.83zM1250.41 199.78h6.83v-9.61h-6.83zM1257.24 198.18h6.83v-7.21h-6.83zM1264.07 464.11h6.83v-84.11h-6.83zM1270.90 611.50h6.83v-20.03h-6.83zM1277.73 673.17h6.83v-9.61h-6.83zM1284.56 202.59h6.83v-54.87h-6.83zM1305.05 534.20h6.83v-8.41h-6.83zM1311.88 446.89h6.83v-263.13h-6.83zM1318.71 308.72h6.83v-24.03h-6.83zM1325.54 476.93h6.83v-3.20h-6.83zM1332.36 494.55h6.83v-233.49h-6.83zM1339.19 405.64h6.83v-158.20h-6.83zM1346.02 506.57h6.83v-8.81h-6.83zM1352.85 480.13h6.83v-250.71h-6.83zM1359.68 541.01h6.83v-299.57h-6.83zM1366.51 480.13h6.83v-5.61h-6.83zM1373.34 453.70h6.83v-198.65h-6.83zM1380.17 392.82h6.83v-4.81h-6.83zM1387.00 396.83h6.83v-68.08h-6.83zM1393.83 401.64h6.83v-6.81h-6.83zM1400.66 458.51h6.83v-28.84h-6.83zM1427.98 922.69h6.83v-6.81h-6.83zM1434.81 219.01h6.83v-45.66h-6.83zM1441.64 199.78h6.83v-22.03h-6.83zM1448.47 470.92h6.83v-82.90h-6.83zM1455.30 339.16h6.83v-28.04h-6.83zM1462.13 292.30h6.83v-36.45h-6.83zM1468.96 608.29h6.83v-14.42h-6.83zM1475.79 574.65h6.83v-21.63h-6.83zM1482.62 226.22h6.83v-48.86h-6.83zM1489.45 416.05h6.83v-36.05h-6.83zM1496.28 270.27h6.83v-84.91h-6.83zM1509.93 426.47h6.83v-14.82h-6.83zM1516.76 663.16h6.83v-86.91h-6.83zM1530.42 286.29h6.83v-14.82h-6.83zM1537.25 183.76h6.83v-34.44h-6.83zM1544.08 374.00h6.83v-21.63h-6.83zM1550.91 274.28h6.83v-20.02h-6.83zM1557.74 408.04h6.83v-16.82h-6.83zM1564.57 281.89h6.83v-16.42h-6.83zM1571.40 191.77h6.83v-12.82h-6.83zM1578.23 343.96h6.83v-12.82h-6.83zM1591.89 258.26h6.83v-54.47h-6.83zM1598.72 425.67h6.83v-29.64h-6.83zM1605.55 434.48h6.83v-16.82h-6.83zM1612.38 557.03h6.83v-155.79h-6.83zM1619.21 645.94h6.83v-59.27h-6.83zM1626.04 198.58h6.83v-8.01h-6.83zM1632.87 375.20h6.83v-12.01h-6.83zM1639.70 204.59h6.83v-17.62h-6.83zM1646.53 180.56h6.83v-11.21h-6.83zM1653.36 177.76h6.83v-2.80h-6.83zM1660.19 162.94h6.83v-12.01h-6.83zM1667.02 180.96h6.83v-26.83h-6.83zM1673.85 188.17h6.83v-33.24h-6.83zM1680.68 149.32h6.83v-9.61h-6.83zM1687.50 171.75h6.83v-17.62h-6.83zM1694.33 209.40h6.83v-18.02h-6.83zM1701.16 164.54h6.83v-8.01h-6.83zM1707.99 651.55h6.83v-91.31h-6.83zM1714.82 660.36h6.83v-250.71h-6.83zM1721.65 808.54h6.83v-2.00h-6.83zM1728.48 283.49h6.83v-43.65h-6.83zM1735.31 279.88h6.83v-33.64h-6.83zM1748.97 204.59h6.83v-13.22h-6.83zM1755.80 255.85h6.83v-27.23h-6.83zM1762.63 544.61h6.83v-7.61h-6.83zM1769.46 492.95h6.83v-13.62h-6.83zM1776.29 305.52h6.83v-31.24h-6.83zM1783.12 585.07h6.83v-6.41h-6.83zM1796.78 328.75h6.83v-10.41h-6.83zM1803.61 676.38h6.83v-19.62h-6.83zM1810.44 358.78h6.83v-30.04h-6.83zM1817.27 142.51h6.83v-7.21h-6.83zM1824.10 185.37h6.83v-13.62h-6.83zM1830.93 237.43h6.83v-25.63h-6.83zM1837.76 312.73h6.83v-56.87h-6.83zM1844.59 191.37h6.83v-29.24h-6.83zM1851.42 369.60h6.83v-84.10h-6.83zM1858.25 821.36h6.83v-7.61h-6.83zM1865.08 581.86h6.83v-8.01h-6.83zM1871.90 463.31h6.83v-17.62h-6.83zM1878.73 466.52h6.83v-16.02h-6.83zM1885.56 382.41h6.83v-11.61h-6.83zM1892.39 313.93h6.83v-11.21h-6.83zM1899.22 586.67h6.83v-6.41h-6.83zM1906.05 237.43h6.83v-24.83h-6.83zM1912.88 356.78h6.83v-18.82h-6.83zM1919.71 892.65h6.83v-7.21h-6.83zM1926.54 529.80h6.83v-8.01h-6.83zM1933.37 565.04h6.83v-10.01h-6.83zM1953.86 444.89h6.83v-10.41h-6.83zM1960.69 405.64h6.83v-32.04h-6.83zM1974.35 780.11h6.83v-13.22h-6.83zM1981.18 224.62h6.83v-33.64h-6.83zM1988.01 741.26h6.83v-6.41h-6.83zM1994.84 293.90h6.83v-5.21h-6.83zM2001.67 361.59h6.83v-49.66h-6.83zM2008.50 475.33h6.83v-137.37h-6.83zM2015.33 782.11h6.83v-3.60h-6.83zM2022.16 597.08h6.83v-15.22h-6.83zM2028.99 210.20h6.83v-60.88h-6.83zM2035.82 311.92h6.83v-16.82h-6.83zM2042.65 228.62h6.83v-15.22h-6.83zM2049.47 202.19h6.83v-20.83h-6.83zM2056.30 243.84h6.83v-38.45h-6.83zM2063.13 159.73h6.83v-10.41h-6.83zM2069.96 165.74h6.83v-14.02h-6.83zM2076.79 191.77h6.83v-14.02h-6.83zM2083.62 170.15h6.83v-7.21h-6.83zM2090.45 202.59h6.83v-18.82h-6.83zM2097.28 184.56h6.83v-24.03h-6.83zM2104.11 215.80h6.83v-36.05h-6.83zM2110.94 173.35h6.83v-21.63h-6.83zM2117.77 169.35h6.83v-27.23h-6.83zM2138.26 167.74h6.83v-30.44h-6.83zM2145.09 475.33h6.83v-7.61h-6.83zM2151.92 199.78h6.83v-36.05h-6.83zM2158.75 278.68h6.83v-25.23h-6.83zM2165.58 817.76h6.83v-6.41h-6.83zM2172.41 460.91h6.83v-33.64h-6.83zM2179.24 251.85h6.83v-33.64h-6.83zM2186.07 595.48h6.83v-26.43h-6.83zM2192.90 600.28h6.83v-40.85h-6.83zM2199.73 683.59h6.83v-539.07h-6.83zM2206.56 612.30h6.83v-22.83h-6.83zM2213.39 890.25h6.83v-5.61h-6.83zM2220.22 349.97h6.83v-88.91h-6.83zM2227.04 586.67h6.83v-6.41h-6.83zM2233.87 311.92h6.83v-28.04h-6.83zM2240.70 676.78h6.83v-6.01h-6.83zM2247.53 307.12h6.83v-28.44h-6.83zM2254.36 728.44h6.83v-7.21h-6.83zM2261.19 649.95h6.83v-11.21h-6.83zM2268.02 283.89h6.83v-99.32h-6.83zM2274.85 520.18h6.83v-13.62h-6.83zM2281.68 348.37h6.83v-46.86h-6.83zM2288.51 282.29h6.83v-76.09h-6.83zM2295.34 250.25h6.83v-27.63h-6.83zM2302.17 241.44h6.83v-101.73h-6.83zM2309.00 178.16h6.83v-32.84h-6.83zM2315.83 270.27h6.83v-91.31h-6.83zM2322.66 400.83h6.83v-52.87h-6.83zM2329.49 588.27h6.83v-439.75h-6.83zM2336.32 394.03h6.83v-243.10h-6.83zM2343.15 401.64h6.83v-216.27h-6.83zM2349.98 201.79h6.83v-18.82h-6.83zM2363.64 415.25h6.83v-13.62h-6.83zM2370.47 650.75h6.83v-34.44h-6.83zM2377.30 691.20h6.83v-14.82h-6.83zM2384.13 643.54h6.83v-4.01h-6.83zM2390.96 783.31h6.83v-10.41h-6.83zM2404.61 490.55h6.83v-19.22h-6.83zM2418.27 314.73h6.83v-49.26h-6.83zM2431.93 700.41h6.83v-6.41h-6.83zM2438.76 160.53h6.83v-6.41h-6.83zM2445.59 482.54h6.83v-322.80h-6.83zM2452.42 303.51h6.83v-66.88h-6.83zM2459.25 342.36h6.83v-14.02h-6.83zM2466.08 367.19h6.83v-13.62h-6.83zM2479.74 183.76h6.83v-17.22h-6.83zM2486.57 232.62h6.83v-52.06h-6.83z"/>
<path fill="#5D3A9B" d="M164.50 463.31h6.83v-330.81h-6.83zM171.33 165.74h6.83v-33.24h-6.83zM178.16 723.64h6.83v-591.14h-6.83zM184.99 158.93h6.83v-26.43h-6.83zM191.82 138.11h6.83v-5.61h-6.83zM198.65 149.32h6.83v-16.82h-6.83zM205.48 248.64h6.83v-116.14h-6.83zM212.31 711.62h6.83v-579.12h-6.83zM219.14 145.32h6.83v-12.82h-6.83zM225.97 663.56h6.83v-531.06h-6.83zM232.80 140.51h6.83v-8.01h-6.83zM239.63 453.70h6.83v-321.20h-6.83zM246.46 291.10h6.83v-158.60h-6.83zM253.29 314.33h6.83v-181.83h-6.83zM260.11 901.78h6.83v-769.28h-6.83zM266.94 648.34h6.83v-515.84h-6.83zM273.77 800.53h6.83v-668.03h-6.83zM280.60 459.31h6.83v-326.81h-6.83zM287.43 251.05h6.83v-118.55h-6.83zM294.26 380.81h6.83v-248.31h-6.83zM301.09 380.01h6.83v-247.51h-6.83zM307.92 503.36h6.83v-370.86h-6.83zM314.75 498.96h6.83v-366.46h-6.83zM321.58 399.23h6.83v-266.73h-6.83zM328.41 431.27h6.83v-298.77h-6.83zM335.24 620.71h6.83v-488.21h-6.83zM342.07 513.78h6.83v-381.28h-6.83zM348.90 505.77h6.83v-373.27h-6.83zM355.73 620.71h6.83v-488.21h-6.83zM362.56 344.76h6.83v-212.26h-6.83zM369.39 915.08h6.83v-782.58h-6.83zM376.22 751.67h6.83v-619.17h-6.83zM383.05 233.43h6.83v-100.93h-6.83zM389.88 279.48h6.83v-146.98h-6.83zM396.71 147.72h6.83v-15.22h-6.83zM403.54 677.58h6.83v-545.08h-6.83zM410.37 211.80h6.83v-79.30h-6.83zM417.20 346.37h6.83v-213.87h-6.83zM424.03 215.80h6.83v-83.30h-6.83zM430.86 243.04h6.83v-110.54h-6.83zM437.68 370.00h6.83v-237.50h-6.83zM444.51 147.72h6.83v-15.22h-6.83zM451.34 203.79h6.83v-71.29h-6.83zM465.00 158.13h6.83v-25.63h-6.83zM471.83 667.57h6.83v-535.07h-6.83zM478.66 298.31h6.83v-165.81h-6.83zM485.49 359.18h6.83v-226.68h-6.83zM492.32 142.51h6.83v-10.01h-6.83zM499.15 444.89h6.83v-312.39h-6.83zM505.98 138.91h6.83v-6.41h-6.83zM512.81 150.92h6.83v-18.42h-6.83zM519.64 206.19h6.83v-73.69h-6.83zM533.30 135.70h6.83v-3.20h-6.83zM540.13 163.74h6.83v-31.24h-6.83zM546.96 141.71h6.83v-9.21h-6.83zM553.79 224.62h6.83v-92.12h-6.83zM560.62 216.61h6.83v-84.11h-6.83zM567.45 906.27h6.83v-773.77h-6.83zM581.11 135.30h6.83v-2.80h-6.83zM587.94 158.93h6.83v-26.43h-6.83zM594.77 137.31h6.83v-4.81h-6.83zM615.25 239.83h6.83v-107.33h-6.83zM622.08 158.93h6.83v-26.43h-6.83zM628.91 336.75h6.83v-204.25h-6.83zM635.74 354.38h6.83v-221.88h-6.83zM642.57 779.71h6.83v-647.21h-6.83zM649.40 340.76h6.83v-208.26h-6.83zM669.89 145.32h6.83v-12.82h-6.83zM676.72 284.69h6.83v-152.19h-6.83zM683.55 842.59h6.83v-710.09h-6.83zM690.38 470.92h6.83v-338.42h-6.83zM697.21 374.40h6.83v-241.90h-6.83zM704.04 164.54h6.83v-32.04h-6.83zM710.87 298.31h6.83v-165.81h-6.83zM717.70 848.59h6.83v-716.09h-6.83zM724.53 245.44h6.83v-112.94h-6.83zM731.36 319.13h6.83v-186.63h-6.83zM738.19 343.16h6.83v-210.66h-6.83zM745.02 449.70h6.83v-317.20h-6.83zM751.85 450.50h6.83v-318.00h-6.83zM758.68 231.02h6.83v-98.52h-6.83zM765.51 877.43h6.83v-744.93h-6.83zM772.34 285.49h6.83v-152.99h-6.83zM779.17 295.10h6.83v-162.60h-6.83zM786.00 316.73h6.83v-184.23h-6.83zM792.82 192.57h6.83v-60.07h-6.83zM799.65 181.36h6.83v-48.86h-6.83zM806.48 181.36h6.83v-48.86h-6.83zM813.31 199.78h6.83v-67.28h-6.83zM820.14 156.53h6.83v-24.03h-6.83zM826.97 287.09h6.83v-154.59h-6.83zM833.80 152.93h6.83v-20.43h-6.83zM854.29 206.19h6.83v-73.69h-6.83zM861.12 341.56h6.83v-209.06h-6.83zM867.95 213.00h6.83v-80.50h-6.83zM874.78 289.50h6.83v-157.00h-6.83zM881.61 263.86h6.83v-131.36h-6.83zM888.44 157.33h6.83v-24.83h-6.83zM895.27 155.33h6.83v-22.83h-6.83zM902.10 194.98h6.83v-62.48h-6.83zM908.93 175.75h6.83v-43.25h-6.83zM915.76 225.42h6.83v-92.92h-6.83zM922.59 185.37h6.83v-52.87h-6.83zM929.42 344.76h6.83v-212.26h-6.83zM936.25 160.53h6.83v-28.03h-6.83zM943.08 156.53h6.83v-24.03h-6.83zM949.91 271.87h6.83v-139.37h-6.83zM956.74 182.96h6.83v-50.46h-6.83zM963.57 205.39h6.83v-72.89h-6.83zM970.40 223.01h6.83v-90.51h-6.83zM977.22 187.37h6.83v-54.87h-6.83zM984.05 476.13h6.83v-343.63h-6.83zM990.88 364.79h6.83v-232.29h-6.83zM997.71 155.33h6.83v-22.83h-6.83zM1004.54 883.44h6.83v-750.94h-6.83zM1011.37 170.95h6.83v-38.45h-6.83zM1018.20 257.06h6.83v-124.56h-6.83zM1025.03 156.13h6.83v-23.63h-6.83zM1031.86 262.26h6.83v-129.76h-6.83zM1038.69 176.96h6.83v-44.46h-6.83zM1045.52 250.25h6.83v-117.75h-6.83zM1052.35 142.91h6.83v-10.41h-6.83zM1059.18 507.37h6.83v-374.87h-6.83zM1066.01 189.37h6.83v-56.87h-6.83zM1072.84 525.79h6.83v-393.29h-6.83zM1079.67 198.18h6.83v-65.68h-6.83zM1086.50 265.47h6.83v-132.97h-6.83zM1093.33 171.75h6.83v-39.25h-6.83zM1100.16 198.58h6.83v-66.08h-6.83zM1106.99 184.56h6.83v-52.06h-6.83zM1113.82 419.26h6.83v-286.76h-6.83zM1120.65 243.04h6.83v-110.54h-6.83zM1127.48 381.61h6.83v-249.11h-6.83zM1154.79 398.43h6.83v-265.93h-6.83zM1161.62 468.12h6.83v-335.62h-6.83zM1168.45 446.49h6.83v-313.99h-6.83zM1175.28 147.72h6.83v-15.22h-6.83zM1182.11 195.78h6.83v-63.28h-6.83zM1188.94 158.93h6.83v-26.43h-6.83zM1195.77 343.96h6.83v-211.46h-6.83zM1202.60 295.10h6.83v-162.60h-6.83zM1209.43 346.37h6.83v-213.87h-6.83zM1216.26 271.07h6.83v-138.57h-6.83zM1223.09 323.94h6.83v-191.44h-6.83zM1229.92 156.13h6.83v-23.63h-6.83zM1236.75 167.74h6.83v-35.24h-6.83zM1243.58 167.74h6.83v-35.24h-6.83zM1250.41 190.17h6.83v-57.67h-6.83zM1257.24 190.97h6.83v-58.47h-6.83zM1264.07 380.01h6.83v-247.51h-6.83zM1270.90 591.47h6.83v-458.97h-6.83zM1277.73 663.56h6.83v-531.06h-6.83zM1284.56 147.72h6.83v-15.22h-6.83zM1291.39 928.29h6.83v-795.79h-6.83zM1298.22 810.55h6.83v-678.05h-6.83zM1305.05 525.79h6.83v-393.29h-6.83zM1311.88 183.76h6.83v-51.26h-6.83zM1318.71 284.69h6.83v-152.19h-6.83zM1325.54 473.73h6.83v-341.23h-6.83zM1332.36 261.06h6.83v-128.56h-6.83zM1339.19 247.44h6.83v-114.94h-6.83zM1346.02 497.76h6.83v-365.26h-6.83zM1352.85 229.42h6.83v-96.92h-6.83zM1359.68 241.44h6.83v-108.94h-6.83zM1366.51 474.53h6.83v-342.03h-6.83zM1373.34 255.05h6.83v-122.55h-6.83zM1380.17 388.02h6.83v-255.52h-6.83zM1387.00 328.75h6.83v-196.25h-6.83zM1393.83 394.83h6.83v-262.33h-6.83zM1400.66 429.67h6.83v-297.17h-6.83zM1421.15 919.08h6.83v-786.58h-6.83zM1427.98 915.88h6.83v-783.38h-6.83zM1434.81 173.35h6.83v-40.85h-6.83zM1441.64 177.76h6.83v-45.26h-6.83zM1448.47 388.02h6.83v-255.52h-6.83zM1455.30 311.12h6.83v-178.62h-6.83zM1462.13 255.85h6.83v-123.35h-6.83zM1468.96 593.88h6.83v-461.38h-6.83zM1475.79 553.03h6.83v-420.53h-6.83zM1482.62 177.36h6.83v-44.86h-6.83zM1489.45 380.01h6.83v-247.51h-6.83zM1496.28 185.37h6.83v-52.87h-6.83zM1503.11 894.65h6.83v-762.15h-6.83zM1509.93 411.65h6.83v-279.15h-6.83zM1516.76 576.25h6.83v-443.75h-6.83zM1523.59 366.39h6.83v-233.89h-6.83zM1530.42 271.47h6.83v-138.97h-6.83zM1537.25 149.32h6.83v-16.82h-6.83zM1544.08 352.37h6.83v-219.87h-6.83zM1550.91 254.25h6.83v-121.75h-6.83zM1557.74 391.22h6.83v-258.72h-6.83zM1564.57 265.47h6.83v-132.97h-6.83zM1571.40 178.96h6.83v-46.46h-6.83zM1578.23 331.15h6.83v-198.65h-6.83zM1585.06 919.48h6.83v-786.98h-6.83zM1591.89 203.79h6.83v-71.29h-6.83zM1598.72 396.03h6.83v-263.53h-6.83zM1605.55 417.66h6.83v-285.16h-6.83zM1612.38 401.24h6.83v-268.74h-6.83zM1619.21 586.67h6.83v-454.17h-6.83zM1626.04 190.57h6.83v-58.07h-6.83zM1632.87 363.19h6.83v-230.69h-6.83zM1639.70 186.97h6.83v-54.47h-6.83zM1646.53 169.35h6.83v-36.85h-6.83zM1653.36 174.95h6.83v-42.45h-6.83zM1660.19 150.92h6.83v-18.42h-6.83zM1667.02 154.13h6.83v-21.63h-6.83zM1673.85 154.93h6.83v-22.43h-6.83zM1680.68 139.71h6.83v-7.21h-6.83zM1687.50 154.13h6.83v-21.63h-6.83zM1694.33 191.37h6.83v-58.87h-6.83zM1701.16 156.53h6.83v-24.03h-6.83zM1707.99 560.23h6.83v-427.73h-6.83zM1714.82 409.65h6.83v-277.15h-6.83zM1721.65 806.54h6.83v-674.04h-6.83zM1728.48 239.83h6.83v-107.33h-6.83zM1735.31 246.24h6.83v-113.74h-6.83zM1742.14 892.25h6.83v-759.75h-6.83zM1748.97 191.37h6.83v-58.87h-6.83zM1755.80 228.62h6.83v-96.12h-6.83zM1762.63 537.00h6.83v-404.50h-6.83zM1769.46 479.33h6.83v-346.83h-6.83zM1776.29 274.28h6.83v-141.78h-6.83zM1783.12 578.66h6.83v-446.16h-6.83zM1789.95 827.77h6.83v-695.27h-6.83zM1796.78 318.33h6.83v-185.83h-6.83zM1803.61 656.75h6.83v-524.25h-6.83zM1810.44 328.75h6.83v-196.25h-6.83zM1817.27 135.30h6.83v-2.80h-6.83zM1824.10 171.75h6.83v-39.25h-6.83zM1830.93 211.80h6.83v-79.30h-6.83zM1837.76 255.85h6.83v-123.35h-6.83zM1844.59 162.14h6.83v-29.64h-6.83zM1851.42 285.49h6.83v-152.99h-6.83zM1858.25 813.75h6.83v-681.25h-6.83zM1865.08 573.85h6.83v-441.35h-6.83zM1871.90 445.69h6.83v-313.19h-6.83zM1878.73 450.50h6.83v-318.00h-6.83zM1885.56 370.80h6.83v-238.30h-6.83zM1892.39 302.71h6.83v-170.21h-6.83zM1899.22 580.26h6.83v-447.76h-6.83zM1906.05 212.60h6.83v-80.10h-6.83zM1912.88 337.96h6.83v-205.46h-6.83zM1919.71 885.44h6.83v-752.94h-6.83zM1926.54 521.79h6.83v-389.29h-6.83zM1933.37 555.03h6.83v-422.53h-6.83zM1940.20 678.78h6.83v-546.28h-6.83zM1947.03 622.71h6.83v-490.21h-6.83zM1953.86 434.48h6.83v-301.98h-6.83zM1960.69 373.60h6.83v-241.10h-6.83zM1967.52 755.68h6.83v-623.18h-6.83zM1974.35 766.89h6.83v-634.39h-6.83zM1981.18 190.97h6.83v-58.47h-6.83zM1988.01 734.85h6.83v-602.35h-6.83zM1994.84 288.69h6.83v-156.19h-6.83zM2001.67 311.92h6.83v-179.42h-6.83zM2008.50 337.96h6.83v-205.46h-6.83zM2015.33 778.51h6.83v-646.01h-6.83zM2022.16 581.86h6.83v-449.36h-6.83zM2028.99 149.32h6.83v-16.82h-6.83zM2035.82 295.10h6.83v-162.60h-6.83zM2042.65 213.40h6.83v-80.90h-6.83zM2049.47 181.36h6.83v-48.86h-6.83zM2056.30 205.39h6.83v-72.89h-6.83zM2063.13 149.32h6.83v-16.82h-6.83zM2069.96 151.72h6.83v-19.22h-6.83zM2076.79 177.76h6.83v-45.26h-6.83zM2083.62 162.94h6.83v-30.44h-6.83zM2090.45 183.76h6.83v-51.26h-6.83zM2097.28 160.53h6.83v-28.03h-6.83zM2104.11 179.76h6.83v-47.26h-6.83zM2110.94 151.72h6.83v-19.22h-6.83zM2117.77 142.11h6.83v-9.61h-6.83zM2138.26 137.31h6.83v-4.81h-6.83zM2145.09 467.72h6.83v-335.22h-6.83zM2151.92 163.74h6.83v-31.24h-6.83zM2158.75 253.45h6.83v-120.95h-6.83zM2165.58 811.35h6.83v-678.85h-6.83zM2172.41 427.27h6.83v-294.77h-6.83zM2179.24 218.21h6.83v-85.71h-6.83zM2186.07 569.05h6.83v-436.55h-6.83zM2192.90 559.43h6.83v-426.93h-6.83zM2199.73 144.51h6.83v-12.01h-6.83zM2206.56 589.47h6.83v-456.97h-6.83zM2213.39 884.64h6.83v-752.14h-6.83zM2220.22 261.06h6.83v-128.56h-6.83zM2227.04 580.26h6.83v-447.76h-6.83zM2233.87 283.89h6.83v-151.39h-6.83zM2240.70 670.77h6.83v-538.27h-6.83zM2247.53 278.68h6.83v-146.18h-6.83zM2254.36 721.24h6.83v-588.74h-6.83zM2261.19 638.73h6.83v-506.23h-6.83zM2268.02 184.56h6.83v-52.06h-6.83zM2274.85 506.57h6.83v-374.07h-6.83zM2281.68 301.51h6.83v-169.01h-6.83zM2288.51 206.19h6.83v-73.69h-6.83zM2295.34 222.61h6.83v-90.11h-6.83zM2302.17 139.71h6.83v-7.21h-6.83zM2309.00 145.32h6.83v-12.82h-6.83zM2315.83 178.96h6.83v-46.46h-6.83zM2322.66 347.97h6.83v-215.47h-6.83zM2329.49 148.52h6.83v-16.02h-6.83zM2336.32 150.92h6.83v-18.42h-6.83zM2343.15 185.37h6.83v-52.87h-6.83zM2349.98 182.96h6.83v-50.46h-6.83zM2356.81 731.65h6.83v-599.15h-6.83zM2363.64 401.64h6.83v-269.14h-6.83zM2370.47 616.30h6.83v-483.80h-6.83zM2377.30 676.38h6.83v-543.88h-6.83zM2384.13 639.53h6.83v-507.03h-6.83zM2390.96 772.90h6.83v-640.40h-6.83zM2397.79 907.47h6.83v-774.97h-6.83zM2404.61 471.32h6.83v-338.82h-6.83zM2411.44 618.71h6.83v-486.21h-6.83zM2418.27 265.47h6.83v-132.97h-6.83zM2425.10 230.22h6.83v-97.72h-6.83zM2431.93 694.00h6.83v-561.50h-6.83zM2438.76 154.13h6.83v-21.63h-6.83zM2445.59 159.73h6.83v-27.23h-6.83zM2452.42 236.63h6.83v-104.13h-6.83zM2459.25 328.34h6.83v-195.84h-6.83zM2466.08 353.58h6.83v-221.08h-6.83zM2472.91 712.02h6.83v-579.52h-6.83zM2479.74 166.54h6.83v-34.04h-6.83zM2486.57 180.56h6.83v-48.06h-6.83z"/>
<path fill="none" stroke="#000" stroke-width="1.3" stroke-opacity="0.55" d="M164.50 933.50V132.50M171.33 933.50V132.50M178.16 933.50V132.50M184.99 933.50V132.50M191.82 933.50V132.50M198.65 933.50V132.50M205.48 933.50V132.50M212.31 933.50V132.50M219.14 933.50V132.50M225.97 933.50V132.50M232.80 933.50V132.50M239.63 933.50V132.50M246.46 933.50V132.50M253.29 933.50V132.50M260.11 933.50V132.50M266.94 933.50V132.50M273.77 933.50V132.50M280.60 933.50V132.50M287.43 933.50V132.50M294.26 933.50V132.50M301.09 933.50V132.50M307.92 933.50V132.50M314.75 933.50V132.50M321.58 933.50V132.50M328.41 933.50V132.50M335.24 933.50V132.50M342.07 933.50V132.50M348.90 933.50V132.50M355.73 933.50V132.50M362.56 933.50V132.50M369.39 933.50V132.50M376.22 933.50V132.50M383.05 933.50V132.50M389.88 933.50V132.50M396.71 933.50V132.50M403.54 933.50V132.50M410.37 933.50V132.50M417.20 933.50V132.50M424.03 933.50V132.50M430.86 933.50V132.50M437.68 933.50V132.50M444.51 933.50V132.50M451.34 933.50V132.50M458.17 933.50V132.50M465.00 933.50V132.50M471.83 933.50V132.50M478.66 933.50V132.50M485.49 933.50V132.50M492.32 933.50V132.50M499.15 933.50V132.50M505.98 933.50V132.50M512.81 933.50V132.50M519.64 933.50V132.50M526.47 933.50V132.50M533.30 933.50V132.50M540.13 933.50V132.50M546.96 933.50V132.50M553.79 933.50V132.50M560.62 933.50V132.50M567.45 933.50V132.50M574.28 933.50V132.50M581.11 933.50V132.50M587.94 933.50V132.50M594.77 933.50V132.50M601.60 933.50V132.50M608.43 933.50V132.50M615.25 933.50V132.50M622.08 933.50V132.50M628.91 933.50V132.50M635.74 933.50V132.50M642.57 933.50V132.50M649.40 933.50V132.50M656.23 933.50V132.50M669.89 933.50V132.50M676.72 933.50V132.50M683.55 933.50V132.50M690.38 933.50V132.50M697.21 933.50V132.50M704.04 933.50V132.50M710.87 933.50V132.50M717.70 933.50V132.50M724.53 933.50V132.50M731.36 933.50V132.50M738.19 933.50V132.50M745.02 933.50V132.50M751.85 933.50V132.50M758.68 933.50V132.50M765.51 933.50V132.50M772.34 933.50V132.50M779.17 933.50V132.50M786.00 933.50V132.50M792.82 933.50V132.50M799.65 933.50V132.50M806.48 933.50V132.50M813.31 933.50V132.50M820.14 933.50V132.50M826.97 933.50V132.50M833.80 933.50V132.50M840.63 933.50V132.50M854.29 933.50V132.50M861.12 933.50V132.50M867.95 933.50V132.50M874.78 933.50V132.50M881.61 933.50V132.50M888.44 933.50V132.50M895.27 933.50V132.50M902.10 933.50V132.50M908.93 933.50V132.50M915.76 933.50V132.50M922.59 933.50V132.50M929.42 933.50V132.50M936.25 933.50V132.50M943.08 933.50V132.50M949.91 933.50V132.50M956.74 933.50V132.50M963.57 933.50V132.50M970.40 933.50V132.50M977.22 933.50V132.50M984.05 933.50V132.50M990.88 933.50V132.50M997.71 933.50V132.50M1004.54 933.50V132.50M1011.37 933.50V132.50M1018.20 933.50V132.50M1025.03 933.50V132.50M1031.86 933.50V132.50M1038.69 933.50V132.50M1045.52 933.50V132.50M1052.35 933.50V132.50M1059.18 933.50V132.50M1066.01 933.50V132.50M1072.84 933.50V132.50M1079.67 933.50V132.50M1086.50 933.50V132.50M1093.33 933.50V132.50M1100.16 933.50V132.50M1106.99 933.50V132.50M1113.82 933.50V132.50M1120.65 933.50V132.50M1127.48 933.50V132.50M1134.31 933.50V132.50M1141.14 933.50V132.50M1154.79 933.50V132.50M1161.62 933.50V132.50M1168.45 933.50V132.50M1175.28 933.50V132.50M1182.11 933.50V132.50M1188.94 933.50V132.50M1195.77 933.50V132.50M1202.60 933.50V132.50M1209.43 933.50V132.50M1216.26 933.50V132.50M1223.09 933.50V132.50M1229.92 933.50V132.50M1236.75 933.50V132.50M1243.58 933.50V132.50M1250.41 933.50V132.50M1257.24 933.50V132.50M1264.07 933.50V132.50M1270.90 933.50V132.50M1277.73 933.50V132.50M1284.56 933.50V132.50M1291.39 933.50V132.50M1298.22 933.50V132.50M1305.05 933.50V132.50M1311.88 933.50V132.50M1318.71 933.50V132.50M1325.54 933.50V132.50M1332.36 933.50V132.50M1339.19 933.50V132.50M1346.02 933.50V132.50M1352.85 933.50V132.50M1359.68 933.50V132.50M1366.51 933.50V132.50M1373.34 933.50V132.50M1380.17 933.50V132.50M1387.00 933.50V132.50M1393.83 933.50V132.50M1400.66 933.50V132.50M1407.49 933.50V132.50M1421.15 933.50V132.50M1427.98 933.50V132.50M1434.81 933.50V132.50M1441.64 933.50V132.50M1448.47 933.50V132.50M1455.30 933.50V132.50M1462.13 933.50V132.50M1468.96 933.50V132.50M1475.79 933.50V132.50M1482.62 933.50V132.50M1489.45 933.50V132.50M1496.28 933.50V132.50M1503.11 933.50V132.50M1509.93 933.50V132.50M1516.76 933.50V132.50M1523.59 933.50V132.50M1530.42 933.50V132.50M1537.25 933.50V132.50M1544.08 933.50V132.50M1550.91 933.50V132.50M1557.74 933.50V132.50M1564.57 933.50V132.50M1571.40 933.50V132.50M1578.23 933.50V132.50M1585.06 933.50V132.50M1591.89 933.50V132.50M1598.72 933.50V132.50M1605.55 933.50V132.50M1612.38 933.50V132.50M1619.21 933.50V132.50M1626.04 933.50V132.50M1632.87 933.50V132.50M1639.70 933.50V132.50M1646.53 933.50V132.50M1653.36 933.50V132.50M1660.19 933.50V132.50M1667.02 933.50V132.50M1673.85 933.50V132.50M1680.68 933.50V132.50M1687.50 933.50V132.50M1694.33 933.50V132.50M1701.16 933.50V132.50M1707.99 933.50V132.50M1714.82 933.50V132.50M1721.65 933.50V132.50M1728.48 933.50V132.50M1735.31 933.50V132.50M1742.14 933.50V132.50M1748.97 933.50V132.50M1755.80 933.50V132.50M1762.63 933.50V132.50M1769.46 933.50V132.50M1776.29 933.50V132.50M1783.12 933.50V132.50M1789.95 933.50V132.50M1796.78 933.50V132.50M1803.61 933.50V132.50M1810.44 933.50V132.50M1817.27 933.50V132.50M1824.10 933.50V132.50M1830.93 933.50V132.50M1837.76 933.50V132.50M1844.59 933.50V132.50M1851.42 933.50V132.50M1858.25 933.50V132.50M1865.08 933.50V132.50M1871.90 933.50V132.50M1878.73 933.50V132.50M1885.56 933.50V132.50M1892.39 933.50V132.50M1899.22 933.50V132.50M1906.05 933.50V132.50M1912.88 933.50V132.50M1919.71 933.50V132.50M1926.54 933.50V132.50M1933.37 933.50V132.50M1940.20 933.50V132.50M1947.03 933.50V132.50M1953.86 933.50V132.50M1960.69 933.50V132.50M1967.52 933.50V132.50M1974.35 933.50V132.50M1981.18 933.50V132.50M1988.01 933.50V132.50M1994.84 933.50V132.50M2001.67 933.50V132.50M2008.50 933.50V132.50M2015.33 933.50V132.50M2022.16 933.50V132.50M2028.99 933.50V132.50M2035.82 933.50V132.50M2042.65 933.50V132.50M2049.47 933.50V132.50M2056.30 933.50V132.50M2063.13 933.50V132.50M2069.96 933.50V132.50M2076.79 933.50V132.50M2083.62 933.50V132.50M2090.45 933.50V132.50M2097.28 933.50V132.50M2104.11 933.50V132.50M2110.94 933.50V132.50M2117.77 933.50V132.50M2124.60 933.50V132.50M2138.26 933.50V132.50M2145.09 933.50V132.50M2151.92 933.50V132.50M2158.75 933.50V132.50M2165.58 933.50V132.50M2172.41 933.50V132.50M2179.24 933.50V132.50M2186.07 933.50V132.50M2192.90 933.50V132.50M2199.73 933.50V132.50M2206.56 933.50V132.50M2213.39 933.50V132.50M2220.22 933.50V132.50M2227.04 933.50V132.50M2233.87 933.50V132.50M2240.70 933.50V132.50M2247.53 933.50V132.50M2254.36 933.50V132.50M2261.19 933.50V132.50M2268.02 933.50V132.50M2274.85 933.50V132.50M2281.68 933.50V132.50M2288.51 933.50V132.50M2295.34 933.50V132.50M2302.17 933.50V132.50M2309.00 933.50V132.50M2315.83 933.50V132.50M2322.66 933.50V132.50M2329.49 933.50V132.50M2336.32 933.50V132.50M2343.15 933.50V132.50M2349.98 933.50V132.50M2356.81 933.50V132.50M2363.64 933.50V132.50M2370.47 933.50V132.50M2377.30 933.50V132.50M2384.13 933.50V132.50M2390.96 933.50V132.50M2397.79 933.50V132.50M2404.61 933.50V132.50M2411.44 933.50V132.50M2418.27 933.50V132.50M2425.10 933.50V132.50M2431.93 933.50V132.50M2438.76 933.50V132.50M2445.59 933.50V132.50M2452.42 933.50V132.50M2459.25 933.50V132.50M2466.08 933.50V132.50M2472.91 933.50V132.50M2479.74 933.50V132.50M2486.57 933.50V132.50M2493.40 933.50V132.50"/>
<path fill="none" stroke="#000" stroke-width="1.1" stroke-opacity="0.7" d="M164.50 695.60h6.83M164.50 465.72h6.83M164.50 463.31h6.83M171.33 806.14h6.83M171.33 686.79h6.83M171.33 165.74h6.83M178.16 834.18h6.83M178.16 739.66h6.83M178.16 723.64h6.83M184.99 672.37h6.83M184.99 424.06h6.83M184.99 158.93h6.83M191.82 691.20h6.83M191.82 469.72h6.83M191.82 138.11h6.83M198.65 628.32h6.83M198.65 335.95h6.83M198.65 149.32h6.83M205.48 781.31h6.83M205.48 635.53h6.83M205.48 248.64h6.83M212.31 829.37h6.83M212.31 730.85h6.83M212.31 711.62h6.83M219.14 865.41h6.83M219.14 805.34h6.83M219.14 145.32h6.83M225.97 804.54h6.83M225.97 680.78h6.83M225.97 663.56h6.83M232.80 899.06h6.83M232.80 865.82h6.83M232.80 140.51h6.83M239.63 715.63h6.83M239.63 498.56h6.83M239.63 453.70h6.83M246.46 651.55h6.83M246.46 376.00h6.83M246.46 291.10h6.83M253.29 643.54h6.83M253.29 354.38h6.83M253.29 314.33h6.83M260.11 917.48h6.83M260.11 901.78h6.83M266.94 790.52h6.83M266.94 692.80h6.83M266.94 648.34h6.83M273.77 863.81h6.83M273.77 804.54h6.83M273.77 800.53h6.83M280.60 706.02h6.83M280.60 488.54h6.83M280.60 459.31h6.83M287.43 600.68h6.83M287.43 275.08h6.83M287.43 251.05h6.83M294.26 661.16h6.83M294.26 396.03h6.83M294.26 380.81h6.83M301.09 683.59h6.83M301.09 442.49h6.83M301.09 380.01h6.83M307.92 721.24h6.83M307.92 518.58h6.83M307.92 503.36h6.83M314.75 718.03h6.83M314.75 504.16h6.83M314.75 498.96h6.83M321.58 669.97h6.83M321.58 426.47h6.83M321.58 399.23h6.83M328.41 685.19h6.83M328.41 451.30h6.83M328.41 431.27h6.83M335.24 776.50h6.83M335.24 620.71h6.83M342.07 712.42h6.83M342.07 519.38h6.83M342.07 513.78h6.83M348.90 730.85h6.83M348.90 528.19h6.83M348.90 505.77h6.83M355.73 782.91h6.83M355.73 634.73h6.83M355.73 620.71h6.83M362.56 654.75h6.83M362.56 380.01h6.83M362.56 344.76h6.83M369.39 922.29h6.83M369.39 915.08h6.83M376.22 838.98h6.83M376.22 758.08h6.83M376.22 751.67h6.83M383.05 597.88h6.83M383.05 266.27h6.83M383.05 233.43h6.83M389.88 611.50h6.83M389.88 304.31h6.83M389.88 279.48h6.83M396.71 542.61h6.83M396.71 166.14h6.83M396.71 147.72h6.83M403.54 805.34h6.83M403.54 677.58h6.83M410.37 593.08h6.83M410.37 259.86h6.83M410.37 211.80h6.83M417.20 650.75h6.83M417.20 375.20h6.83M417.20 346.37h6.83M424.03 627.52h6.83M424.03 332.75h6.83M424.03 215.80h6.83M430.86 597.08h6.83M430.86 272.68h6.83M430.86 243.04h6.83M437.68 666.37h6.83M437.68 401.64h6.83M437.68 370.00h6.83M444.51 818.96h6.83M444.51 715.63h6.83M444.51 147.72h6.83M451.34 569.85h6.83M451.34 238.23h6.83M451.34 203.79h6.83M458.17 910.27h6.83M458.17 881.43h6.83M465.00 600.68h6.83M465.00 276.68h6.83M465.00 158.13h6.83M471.83 802.14h6.83M471.83 671.57h6.83M471.83 667.57h6.83M478.66 617.11h6.83M478.66 315.93h6.83M478.66 298.31h6.83M485.49 645.54h6.83M485.49 363.99h6.83M485.49 359.18h6.83M492.32 879.03h6.83M492.32 827.77h6.83M492.32 142.51h6.83M499.15 694.80h6.83M499.15 462.51h6.83M499.15 444.89h6.83M505.98 820.96h6.83M505.98 709.62h6.83M505.98 138.91h6.83M512.81 813.35h6.83M512.81 703.61h6.83M512.81 150.92h6.83M519.64 562.64h6.83M519.64 214.20h6.83M519.64 206.19h6.83M526.47 895.05h6.83M526.47 862.21h6.83M533.30 891.85h6.83M533.30 853.40h6.83M533.30 135.70h6.83M540.13 555.43h6.83M540.13 191.77h6.83M540.13 163.74h6.83M546.96 540.21h6.83M546.96 155.33h6.83M546.96 141.71h6.83M553.79 578.66h6.83M553.79 249.45h6.83M553.79 224.62h6.83M560.62 577.86h6.83M560.62 233.83h6.83M560.62 216.61h6.83M567.45 919.48h6.83M567.45 906.27h6.83M574.28 851.40h6.83M574.28 779.71h6.83M581.11 901.46h6.83M581.11 864.61h6.83M581.11 135.30h6.83M587.94 907.47h6.83M587.94 888.24h6.83M587.94 158.93h6.83M594.77 915.08h6.83M594.77 895.85h6.83M594.77 137.31h6.83M601.60 927.89h6.83M601.60 922.69h6.83M608.43 929.50h6.83M608.43 928.69h6.83M615.25 609.10h6.83M615.25 292.30h6.83M615.25 239.83h6.83M622.08 887.44h6.83M622.08 855.00h6.83M622.08 158.93h6.83M628.91 671.97h6.83M628.91 420.06h6.83M628.91 336.75h6.83M635.74 701.21h6.83M635.74 484.94h6.83M635.74 354.38h6.83M642.57 854.20h6.83M642.57 787.72h6.83M642.57 779.71h6.83M649.40 790.92h6.83M649.40 662.36h6.83M649.40 340.76h6.83M669.89 902.26h6.83M669.89 876.23h6.83M669.89 145.32h6.83M676.72 817.36h6.83M676.72 705.22h6.83M676.72 284.69h6.83M683.55 891.05h6.83M683.55 850.20h6.83M683.55 842.59h6.83M690.38 710.82h6.83M690.38 490.55h6.83M690.38 470.92h6.83M697.21 680.38h6.83M697.21 443.29h6.83M697.21 374.40h6.83M704.04 557.83h6.83M704.04 191.77h6.83M704.04 164.54h6.83M710.87 628.32h6.83M710.87 332.75h6.83M710.87 298.31h6.83M717.70 889.45h6.83M717.70 848.59h6.83M724.53 598.68h6.83M724.53 271.47h6.83M724.53 245.44h6.83M731.36 620.71h6.83M731.36 334.35h6.83M731.36 319.13h6.83M738.19 641.94h6.83M738.19 361.59h6.83M738.19 343.16h6.83M745.02 691.20h6.83M745.02 464.92h6.83M745.02 449.70h6.83M751.85 698.01h6.83M751.85 478.53h6.83M751.85 450.50h6.83M758.68 598.68h6.83M758.68 277.88h6.83M758.68 231.02h6.83M765.51 905.47h6.83M765.51 877.43h6.83M772.34 662.36h6.83M772.34 403.24h6.83M772.34 285.49h6.83M779.17 614.70h6.83M779.17 307.12h6.83M779.17 295.10h6.83M786.00 658.76h6.83M786.00 387.22h6.83M786.00 316.73h6.83M792.82 626.72h6.83M792.82 345.57h6.83M792.82 192.57h6.83M799.65 554.23h6.83M799.65 193.38h6.83M799.65 181.36h6.83M806.48 569.85h6.83M806.48 224.62h6.83M806.48 181.36h6.83M813.31 596.28h6.83M813.31 276.68h6.83M813.31 199.78h6.83M820.14 856.20h6.83M820.14 778.51h6.83M820.14 156.53h6.83M826.97 629.92h6.83M826.97 304.31h6.83M826.97 287.09h6.83M833.80 645.54h6.83M833.80 361.59h6.83M833.80 152.93h6.83M854.29 658.76h6.83M854.29 401.64h6.83M854.29 206.19h6.83M861.12 641.13h6.83M861.12 358.38h6.83M861.12 341.56h6.83M867.95 620.31h6.83M867.95 329.55h6.83M867.95 213.00h6.83M874.78 625.92h6.83M874.78 314.73h6.83M874.78 289.50h6.83M881.61 608.29h6.83M881.61 288.69h6.83M881.61 263.86h6.83M888.44 687.99h6.83M888.44 455.30h6.83M888.44 157.33h6.83M895.27 547.42h6.83M895.27 170.95h6.83M895.27 155.33h6.83M902.10 560.23h6.83M902.10 200.58h6.83M902.10 194.98h6.83M908.93 561.03h6.83M908.93 212.60h6.83M908.93 175.75h6.83M915.76 617.11h6.83M915.76 320.74h6.83M915.76 225.42h6.83M922.59 568.24h6.83M922.59 224.62h6.83M922.59 185.37h6.83M929.42 671.97h6.83M929.42 435.28h6.83M929.42 344.76h6.83M936.25 794.13h6.83M936.25 674.78h6.83M936.25 160.53h6.83M943.08 711.62h6.83M943.08 506.57h6.83M943.08 156.53h6.83M949.91 616.30h6.83M949.91 313.53h6.83M949.91 271.87h6.83M956.74 665.16h6.83M956.74 422.06h6.83M956.74 182.96h6.83M963.57 593.08h6.83M963.57 271.07h6.83M963.57 205.39h6.83M970.40 574.65h6.83M970.40 232.22h6.83M970.40 223.01h6.83M977.22 581.86h6.83M977.22 242.24h6.83M977.22 187.37h6.83M984.05 714.03h6.83M984.05 495.35h6.83M984.05 476.13h6.83M990.88 648.34h6.83M990.88 376.00h6.83M990.88 364.79h6.83M997.71 555.43h6.83M997.71 194.98h6.83M997.71 155.33h6.83M1004.54 905.06h6.83M1004.54 883.44h6.83M1011.37 573.85h6.83M1011.37 228.62h6.83M1011.37 170.95h6.83M1018.20 595.48h6.83M1018.20 268.27h6.83M1018.20 257.06h6.83M1025.03 846.19h6.83M1025.03 753.27h6.83M1025.03 156.13h6.83M1031.86 638.73h6.83M1031.86 357.58h6.83M1031.86 262.26h6.83M1038.69 560.23h6.83M1038.69 201.79h6.83M1038.69 176.96h6.83M1045.52 608.29h6.83M1045.52 291.10h6.83M1045.52 250.25h6.83M1052.35 532.20h6.83M1052.35 154.13h6.83M1052.35 142.91h6.83M1059.18 719.63h6.83M1059.18 507.37h6.83M1066.01 565.44h6.83M1066.01 207.79h6.83M1066.01 189.37h6.83M1072.84 757.28h6.83M1072.84 575.45h6.83M1072.84 525.79h6.83M1079.67 575.45h6.83M1079.67 230.22h6.83M1079.67 198.18h6.83M1086.50 603.49h6.83M1086.50 286.29h6.83M1086.50 265.47h6.83M1093.33 649.14h6.83M1093.33 384.81h6.83M1093.33 171.75h6.83M1100.16 572.25h6.83M1100.16 219.01h6.83M1100.16 198.58h6.83M1106.99 563.44h6.83M1106.99 197.78h6.83M1106.99 184.56h6.83M1113.82 678.78h6.83M1113.82 450.50h6.83M1113.82 419.26h6.83M1120.65 607.49h6.83M1120.65 286.29h6.83M1120.65 243.04h6.83M1127.48 692.00h6.83M1127.48 458.51h6.83M1127.48 381.61h6.83M1134.31 561.03h6.83M1134.31 193.38h6.83M1154.79 702.81h6.83M1154.79 478.13h6.83M1154.79 398.43h6.83M1161.62 710.82h6.83M1161.62 500.16h6.83M1161.62 468.12h6.83M1168.45 740.46h6.83M1168.45 568.24h6.83M1168.45 446.49h6.83M1175.28 757.28h6.83M1175.28 581.86h6.83M1175.28 147.72h6.83M1182.11 566.64h6.83M1182.11 215.00h6.83M1182.11 195.78h6.83M1188.94 547.42h6.83M1188.94 169.35h6.83M1188.94 158.93h6.83M1195.77 671.57h6.83M1195.77 413.65h6.83M1195.77 343.96h6.83M1202.60 622.71h6.83M1202.60 331.15h6.83M1202.60 295.10h6.83M1209.43 692.40h6.83M1209.43 456.91h6.83M1209.43 346.37h6.83M1216.26 602.69h6.83M1216.26 275.88h6.83M1216.26 271.07h6.83M1223.09 696.40h6.83M1223.09 463.31h6.83M1223.09 323.94h6.83M1229.92 564.24h6.83M1229.92 202.19h6.83M1229.92 156.13h6.83M1236.75 547.42h6.83M1236.75 167.74h6.83M1243.58 549.02h6.83M1243.58 175.75h6.83M1243.58 167.74h6.83M1250.41 561.84h6.83M1250.41 199.78h6.83M1250.41 190.17h6.83M1257.24 551.42h6.83M1257.24 198.18h6.83M1257.24 190.97h6.83M1264.07 699.21h6.83M1264.07 464.11h6.83M1264.07 380.01h6.83M1270.90 766.09h6.83M1270.90 611.50h6.83M1270.90 591.47h6.83M1277.73 800.93h6.83M1277.73 673.17h6.83M1277.73 663.56h6.83M1284.56 568.24h6.83M1284.56 202.59h6.83M1284.56 147.72h6.83M1291.39 931.50h6.83M1291.39 928.29h6.83M1298.22 859.41h6.83M1298.22 810.55h6.83M1305.05 731.65h6.83M1305.05 534.20h6.83M1305.05 525.79h6.83M1311.88 687.99h6.83M1311.88 446.89h6.83M1311.88 183.76h6.83M1318.71 619.51h6.83M1318.71 308.72h6.83M1318.71 284.69h6.83M1325.54 702.81h6.83M1325.54 476.93h6.83M1325.54 473.73h6.83M1332.36 705.22h6.83M1332.36 494.55h6.83M1332.36 261.06h6.83M1339.19 669.17h6.83M1339.19 405.64h6.83M1339.19 247.44h6.83M1346.02 716.83h6.83M1346.02 506.57h6.83M1346.02 497.76h6.83M1352.85 702.81h6.83M1352.85 480.13h6.83M1352.85 229.42h6.83M1359.68 732.85h6.83M1359.68 541.01h6.83M1359.68 241.44h6.83M1366.51 699.61h6.83M1366.51 480.13h6.83M1366.51 474.53h6.83M1373.34 687.19h6.83M1373.34 453.70h6.83M1373.34 255.05h6.83M1380.17 664.36h6.83M1380.17 392.82h6.83M1380.17 388.02h6.83M1387.00 677.58h6.83M1387.00 396.83h6.83M1387.00 328.75h6.83M1393.83 663.96h6.83M1393.83 401.64h6.83M1393.83 394.83h6.83M1400.66 695.60h6.83M1400.66 458.51h6.83M1400.66 429.67h6.83M1421.15 919.08h6.83M1427.98 926.29h6.83M1427.98 922.69h6.83M1427.98 915.88h6.83M1434.81 577.86h6.83M1434.81 219.01h6.83M1434.81 173.35h6.83M1441.64 566.24h6.83M1441.64 199.78h6.83M1441.64 177.76h6.83M1448.47 702.01h6.83M1448.47 470.92h6.83M1448.47 388.02h6.83M1455.30 629.36h6.83M1455.30 339.16h6.83M1455.30 311.12h6.83M1462.13 619.51h6.83M1462.13 292.30h6.83M1462.13 255.85h6.83M1468.96 767.69h6.83M1468.96 608.29h6.83M1468.96 593.88h6.83M1475.79 751.67h6.83M1475.79 574.65h6.83M1475.79 553.03h6.83M1482.62 576.25h6.83M1482.62 226.22h6.83M1482.62 177.36h6.83M1489.45 676.38h6.83M1489.45 416.05h6.83M1489.45 380.01h6.83M1496.28 581.86h6.83M1496.28 270.27h6.83M1496.28 185.37h6.83M1503.11 913.48h6.83M1503.11 894.65h6.83M1509.93 676.38h6.83M1509.93 426.47h6.83M1509.93 411.65h6.83M1516.76 792.52h6.83M1516.76 663.16h6.83M1516.76 576.25h6.83M1523.59 643.54h6.83M1523.59 366.39h6.83M1530.42 607.49h6.83M1530.42 286.29h6.83M1530.42 271.47h6.83M1537.25 555.43h6.83M1537.25 183.76h6.83M1537.25 149.32h6.83M1544.08 648.34h6.83M1544.08 374.00h6.83M1544.08 352.37h6.83M1550.91 597.88h6.83M1550.91 274.28h6.83M1550.91 254.25h6.83M1557.74 673.98h6.83M1557.74 408.04h6.83M1557.74 391.22h6.83M1564.57 604.29h6.83M1564.57 281.89h6.83M1564.57 265.47h6.83M1571.40 558.63h6.83M1571.40 191.77h6.83M1571.40 178.96h6.83M1578.23 633.93h6.83M1578.23 343.96h6.83M1578.23 331.15h6.83M1585.06 924.69h6.83M1585.06 919.48h6.83M1591.89 595.48h6.83M1591.89 258.26h6.83M1591.89 203.79h6.83M1598.72 671.97h6.83M1598.72 425.67h6.83M1598.72 396.03h6.83M1605.55 652.75h6.83M1605.55 434.48h6.83M1605.55 417.66h6.83M1612.38 730.05h6.83M1612.38 557.03h6.83M1612.38 401.24h6.83M1619.21 783.71h6.83M1619.21 645.94h6.83M1619.21 586.67h6.83M1626.04 567.44h6.83M1626.04 198.58h6.83M1626.04 190.57h6.83M1632.87 649.14h6.83M1632.87 375.20h6.83M1632.87 363.19h6.83M1639.70 564.24h6.83M1639.70 204.59h6.83M1639.70 186.97h6.83M1646.53 553.03h6.83M1646.53 180.56h6.83M1646.53 169.35h6.83M1653.36 552.22h6.83M1653.36 177.76h6.83M1653.36 174.95h6.83M1660.19 544.21h6.83M1660.19 162.94h6.83M1660.19 150.92h6.83M1667.02 555.43h6.83M1667.02 180.96h6.83M1667.02 154.13h6.83M1673.85 556.23h6.83M1673.85 188.17h6.83M1673.85 154.93h6.83M1680.68 538.61h6.83M1680.68 149.32h6.83M1680.68 139.71h6.83M1687.50 548.22h6.83M1687.50 171.75h6.83M1687.50 154.13h6.83M1694.33 568.24h6.83M1694.33 209.40h6.83M1694.33 191.37h6.83M1701.16 545.82h6.83M1701.16 164.54h6.83M1701.16 156.53h6.83M1707.99 782.11h6.83M1707.99 651.55h6.83M1707.99 560.23h6.83M1714.82 781.31h6.83M1714.82 660.36h6.83M1714.82 409.65h6.83M1721.65 870.22h6.83M1721.65 808.54h6.83M1721.65 806.54h6.83M1728.48 602.69h6.83M1728.48 283.49h6.83M1728.48 239.83h6.83M1735.31 603.49h6.83M1735.31 279.88h6.83M1735.31 246.24h6.83M1742.14 905.06h6.83M1742.14 892.25h6.83M1748.97 555.43h6.83M1748.97 204.59h6.83M1748.97 191.37h6.83M1755.80 588.27h6.83M1755.80 255.85h6.83M1755.80 228.62h6.83M1762.63 723.24h6.83M1762.63 544.61h6.83M1762.63 537.00h6.83M1769.46 705.22h6.83M1769.46 492.95h6.83M1769.46 479.33h6.83M1776.29 614.70h6.83M1776.29 305.52h6.83M1776.29 274.28h6.83M1783.12 750.87h6.83M1783.12 585.07h6.83M1783.12 578.66h6.83M1789.95 871.02h6.83M1789.95 827.77h6.83M1796.78 623.51h6.83M1796.78 328.75h6.83M1796.78 318.33h6.83M1803.61 797.33h6.83M1803.61 676.38h6.83M1803.61 656.75h6.83M1810.44 625.52h6.83M1810.44 358.78h6.83M1810.44 328.75h6.83M1817.27 537.00h6.83M1817.27 142.51h6.83M1817.27 135.30h6.83M1824.10 553.03h6.83M1824.10 185.37h6.83M1824.10 171.75h6.83M1830.93 579.06h6.83M1830.93 237.43h6.83M1830.93 211.80h6.83M1837.76 622.71h6.83M1837.76 312.73h6.83M1837.76 255.85h6.83M1844.59 554.63h6.83M1844.59 191.37h6.83M1844.59 162.14h6.83M1851.42 632.32h6.83M1851.42 369.60h6.83M1851.42 285.49h6.83M1858.25 881.03h6.83M1858.25 821.36h6.83M1858.25 813.75h6.83M1865.08 757.28h6.83M1865.08 581.86h6.83M1865.08 573.85h6.83M1871.90 694.80h6.83M1871.90 463.31h6.83M1871.90 445.69h6.83M1878.73 695.60h6.83M1878.73 466.52h6.83M1878.73 450.50h6.83M1885.56 645.94h6.83M1885.56 382.41h6.83M1885.56 370.80h6.83M1892.39 613.90h6.83M1892.39 313.93h6.83M1892.39 302.71h6.83M1899.22 754.88h6.83M1899.22 586.67h6.83M1899.22 580.26h6.83M1906.05 580.26h6.83M1906.05 237.43h6.83M1906.05 212.60h6.83M1912.88 640.33h6.83M1912.88 356.78h6.83M1912.88 337.96h6.83M1919.71 907.47h6.83M1919.71 892.65h6.83M1919.71 885.44h6.83M1926.54 718.83h6.83M1926.54 529.80h6.83M1926.54 521.79h6.83M1933.37 748.07h6.83M1933.37 565.04h6.83M1933.37 555.03h6.83M1940.20 805.74h6.83M1940.20 678.78h6.83M1947.03 768.89h6.83M1947.03 622.71h6.83M1953.86 673.17h6.83M1953.86 444.89h6.83M1953.86 434.48h6.83M1960.69 660.36h6.83M1960.69 405.64h6.83M1960.69 373.60h6.83M1967.52 838.58h6.83M1967.52 755.68h6.83M1974.35 853.00h6.83M1974.35 780.11h6.83M1974.35 766.89h6.83M1981.18 574.65h6.83M1981.18 224.62h6.83M1981.18 190.97h6.83M1988.01 839.78h6.83M1988.01 741.26h6.83M1988.01 734.85h6.83M1994.84 612.30h6.83M1994.84 293.90h6.83M1994.84 288.69h6.83M2001.67 638.73h6.83M2001.67 361.59h6.83M2001.67 311.92h6.83M2008.50 702.01h6.83M2008.50 475.33h6.83M2008.50 337.96h6.83M2015.33 856.20h6.83M2015.33 782.11h6.83M2015.33 778.51h6.83M2022.16 764.89h6.83M2022.16 597.08h6.83M2022.16 581.86h6.83M2028.99 569.85h6.83M2028.99 210.20h6.83M2028.99 149.32h6.83M2035.82 609.90h6.83M2035.82 311.92h6.83M2035.82 295.10h6.83M2042.65 569.85h6.83M2042.65 228.62h6.83M2042.65 213.40h6.83M2049.47 561.84h6.83M2049.47 202.19h6.83M2049.47 181.36h6.83M2056.30 579.06h6.83M2056.30 243.84h6.83M2056.30 205.39h6.83M2063.13 537.81h6.83M2063.13 159.73h6.83M2063.13 149.32h6.83M2069.96 541.01h6.83M2069.96 165.74h6.83M2069.96 151.72h6.83M2076.79 557.03h6.83M2076.79 191.77h6.83M2076.79 177.76h6.83M2083.62 546.62h6.83M2083.62 170.15h6.83M2083.62 162.94h6.83M2090.45 562.64h6.83M2090.45 202.59h6.83M2090.45 183.76h6.83M2097.28 555.03h6.83M2097.28 184.56h6.83M2097.28 160.53h6.83M2104.11 569.85h6.83M2104.11 215.80h6.83M2104.11 179.76h6.83M2110.94 548.22h6.83M2110.94 173.35h6.83M2110.94 151.72h6.83M2117.77 540.21h6.83M2117.77 169.35h6.83M2117.77 142.11h6.83M2138.26 544.21h6.83M2138.26 167.74h6.83M2138.26 137.31h6.83M2145.09 698.41h6.83M2145.09 475.33h6.83M2145.09 467.72h6.83M2151.92 561.03h6.83M2151.92 199.78h6.83M2151.92 163.74h6.83M2158.75 597.08h6.83M2158.75 278.68h6.83M2158.75 253.45h6.83M2165.58 865.41h6.83M2165.58 817.76h6.83M2165.58 811.35h6.83M2172.41 697.21h6.83M2172.41 460.91h6.83M2172.41 427.27h6.83M2179.24 588.27h6.83M2179.24 251.85h6.83M2179.24 218.21h6.83M2186.07 758.08h6.83M2186.07 595.48h6.83M2186.07 569.05h6.83M2192.90 757.28h6.83M2192.90 600.28h6.83M2192.90 559.43h6.83M2199.73 807.74h6.83M2199.73 683.59h6.83M2199.73 144.51h6.83M2206.56 770.10h6.83M2206.56 612.30h6.83M2206.56 589.47h6.83M2213.39 904.66h6.83M2213.39 890.25h6.83M2213.39 884.64h6.83M2220.22 632.72h6.83M2220.22 349.97h6.83M2220.22 261.06h6.83M2227.04 755.68h6.83M2227.04 586.67h6.83M2227.04 580.26h6.83M2233.87 615.50h6.83M2233.87 311.92h6.83M2233.87 283.89h6.83M2240.70 800.53h6.83M2240.70 676.78h6.83M2240.70 670.77h6.83M2247.53 620.31h6.83M2247.53 307.12h6.83M2247.53 278.68h6.83M2254.36 822.96h6.83M2254.36 728.44h6.83M2254.36 721.24h6.83M2261.19 780.11h6.83M2261.19 649.95h6.83M2261.19 638.73h6.83M2268.02 598.68h6.83M2268.02 283.89h6.83M2268.02 184.56h6.83M2274.85 719.63h6.83M2274.85 520.18h6.83M2274.85 506.57h6.83M2281.68 635.53h6.83M2281.68 348.37h6.83M2281.68 301.51h6.83M2288.51 607.49h6.83M2288.51 282.29h6.83M2288.51 206.19h6.83M2295.34 587.47h6.83M2295.34 250.25h6.83M2295.34 222.61h6.83M2302.17 580.26h6.83M2302.17 241.44h6.83M2302.17 139.71h6.83M2309.00 526.59h6.83M2309.00 178.16h6.83M2309.00 145.32h6.83M2315.83 584.26h6.83M2315.83 270.27h6.83M2315.83 178.96h6.83M2322.66 663.56h6.83M2322.66 400.83h6.83M2322.66 347.97h6.83M2329.49 754.08h6.83M2329.49 588.27h6.83M2329.49 148.52h6.83M2336.32 663.56h6.83M2336.32 394.03h6.83M2336.32 150.92h6.83M2343.15 664.36h6.83M2343.15 401.64h6.83M2343.15 185.37h6.83M2349.98 561.03h6.83M2349.98 201.79h6.83M2349.98 182.96h6.83M2356.81 818.96h6.83M2356.81 731.65h6.83M2363.64 670.37h6.83M2363.64 415.25h6.83M2363.64 401.64h6.83M2370.47 782.91h6.83M2370.47 650.75h6.83M2370.47 616.30h6.83M2377.30 793.73h6.83M2377.30 691.20h6.83M2377.30 676.38h6.83M2384.13 783.71h6.83M2384.13 643.54h6.83M2384.13 639.53h6.83M2390.96 856.60h6.83M2390.96 783.31h6.83M2390.96 772.90h6.83M2397.79 917.08h6.83M2397.79 907.47h6.83M2404.61 710.02h6.83M2404.61 490.55h6.83M2404.61 471.32h6.83M2411.44 775.30h6.83M2411.44 618.71h6.83M2418.27 610.30h6.83M2418.27 314.73h6.83M2418.27 265.47h6.83M2425.10 580.26h6.83M2425.10 230.22h6.83M2431.93 814.95h6.83M2431.93 700.41h6.83M2431.93 694.00h6.83M2438.76 538.61h6.83M2438.76 160.53h6.83M2438.76 154.13h6.83M2445.59 710.02h6.83M2445.59 482.54h6.83M2445.59 159.73h6.83M2452.42 614.70h6.83M2452.42 303.51h6.83M2452.42 236.63h6.83M2459.25 635.53h6.83M2459.25 342.36h6.83M2459.25 328.34h6.83M2466.08 642.34h6.83M2466.08 367.19h6.83M2466.08 353.58h6.83M2472.91 816.55h6.83M2472.91 712.02h6.83M2479.74 549.82h6.83M2479.74 183.76h6.83M2479.74 166.54h6.83M2486.57 577.06h6.83M2486.57 232.62h6.83M2486.57 180.56h6.83"/>
<rect x="164.10" y="132.50" width="2328.90" height="801.00" fill="none" stroke="#222" stroke-width="2.6"/>
<g font-family="'Liberation Sans', Arial, Helvetica, sans-serif" font-size="40" fill="#262626" text-anchor="end">
<text x="155" y="949.7">0%</text>
<text x="155" y="789.5">20%</text>
<text x="155" y="629.3">40%</text>
<text x="155" y="469.1">60%</text>
<text x="155" y="308.9">80%</text>
<text x="155" y="148.7">100%</text>
</g>
<g font-family="'Liberation Sans', Arial, Helvetica, sans-serif" font-size="40" fill="#262626" text-anchor="middle">
<text x="410.0" y="982.3">&#39;17-&#39;18</text>
<text x="754.9" y="982.3">&#39;18-&#39;19</text>
<text x="997.3" y="982.3">&#39;19-&#39;20</text>
<text x="1280.7" y="982.3">&#39;20-&#39;21</text>
<text x="1772.5" y="982.3">&#39;21-&#39;22</text>
<text x="2315.4" y="982.3">&#39;22-&#39;23</text>
</g>
<text font-family="'Liberation Sans', Arial, Helvetica, sans-serif" font-size="44" fill="#262626" text-anchor="middle" x="1328.5" y="1036.2">Song Season</text>
<text font-family="'Liberation Sans', Arial, Helvetica, sans-serif" font-size="44" fill="#262626" text-anchor="middle" textLength="456.2" lengthAdjust="spacing" transform="translate(38.2 532.75) rotate(-90)">Note Type Pairings (%)</text>
<rect x="826.1" y="7.3" width="1005.3" height="61.2" fill="#fff" stroke="#262626" stroke-width="2.5"/>
<rect x="841.2" y="21" width="150.5" height="34.8" fill="#D41159" stroke="#000" stroke-width="1.3" stroke-opacity="0.55"/>
<text font-family="'Liberation Sans', Arial, Helvetica, sans-serif" font-size="36" fill="#000" x="1002.3" y="52.8">A-B</text>
<rect x="1092.5" y="21" width="150.5" height="34.8" fill="#E66100" stroke="#000" stroke-width="1.3" stroke-opacity="0.55"/>
<text font-family="'Liberation Sans', Arial, Helvetica, sans-serif" font-size="36" fill="#000" x="1253.6" y="52.8">B-A</text>
<rect x="1343.9" y="21" width="150.5" height="34.8" fill="#1A85FF" stroke="#000" stroke-width="1.3" stroke-opacity="0.55"/>
<text font-family="'Liberation Sans', Arial, Helvetica, sans-serif" font-size="36" fill="#000" x="1505.0" y="52.8">A-A</text>
<rect x="1595.2" y="21" width="150.5" height="34.8" fill="#5D3A9B" stroke="#000" stroke-width="1.3" stroke-opacity="0.55"/>
<text font-family="'Liberation Sans', Arial, Helvetica, sans-serif" font-size="36" fill="#000" x="1756.3" y="52.8">B-B</text>
</svg>
</body></html>
